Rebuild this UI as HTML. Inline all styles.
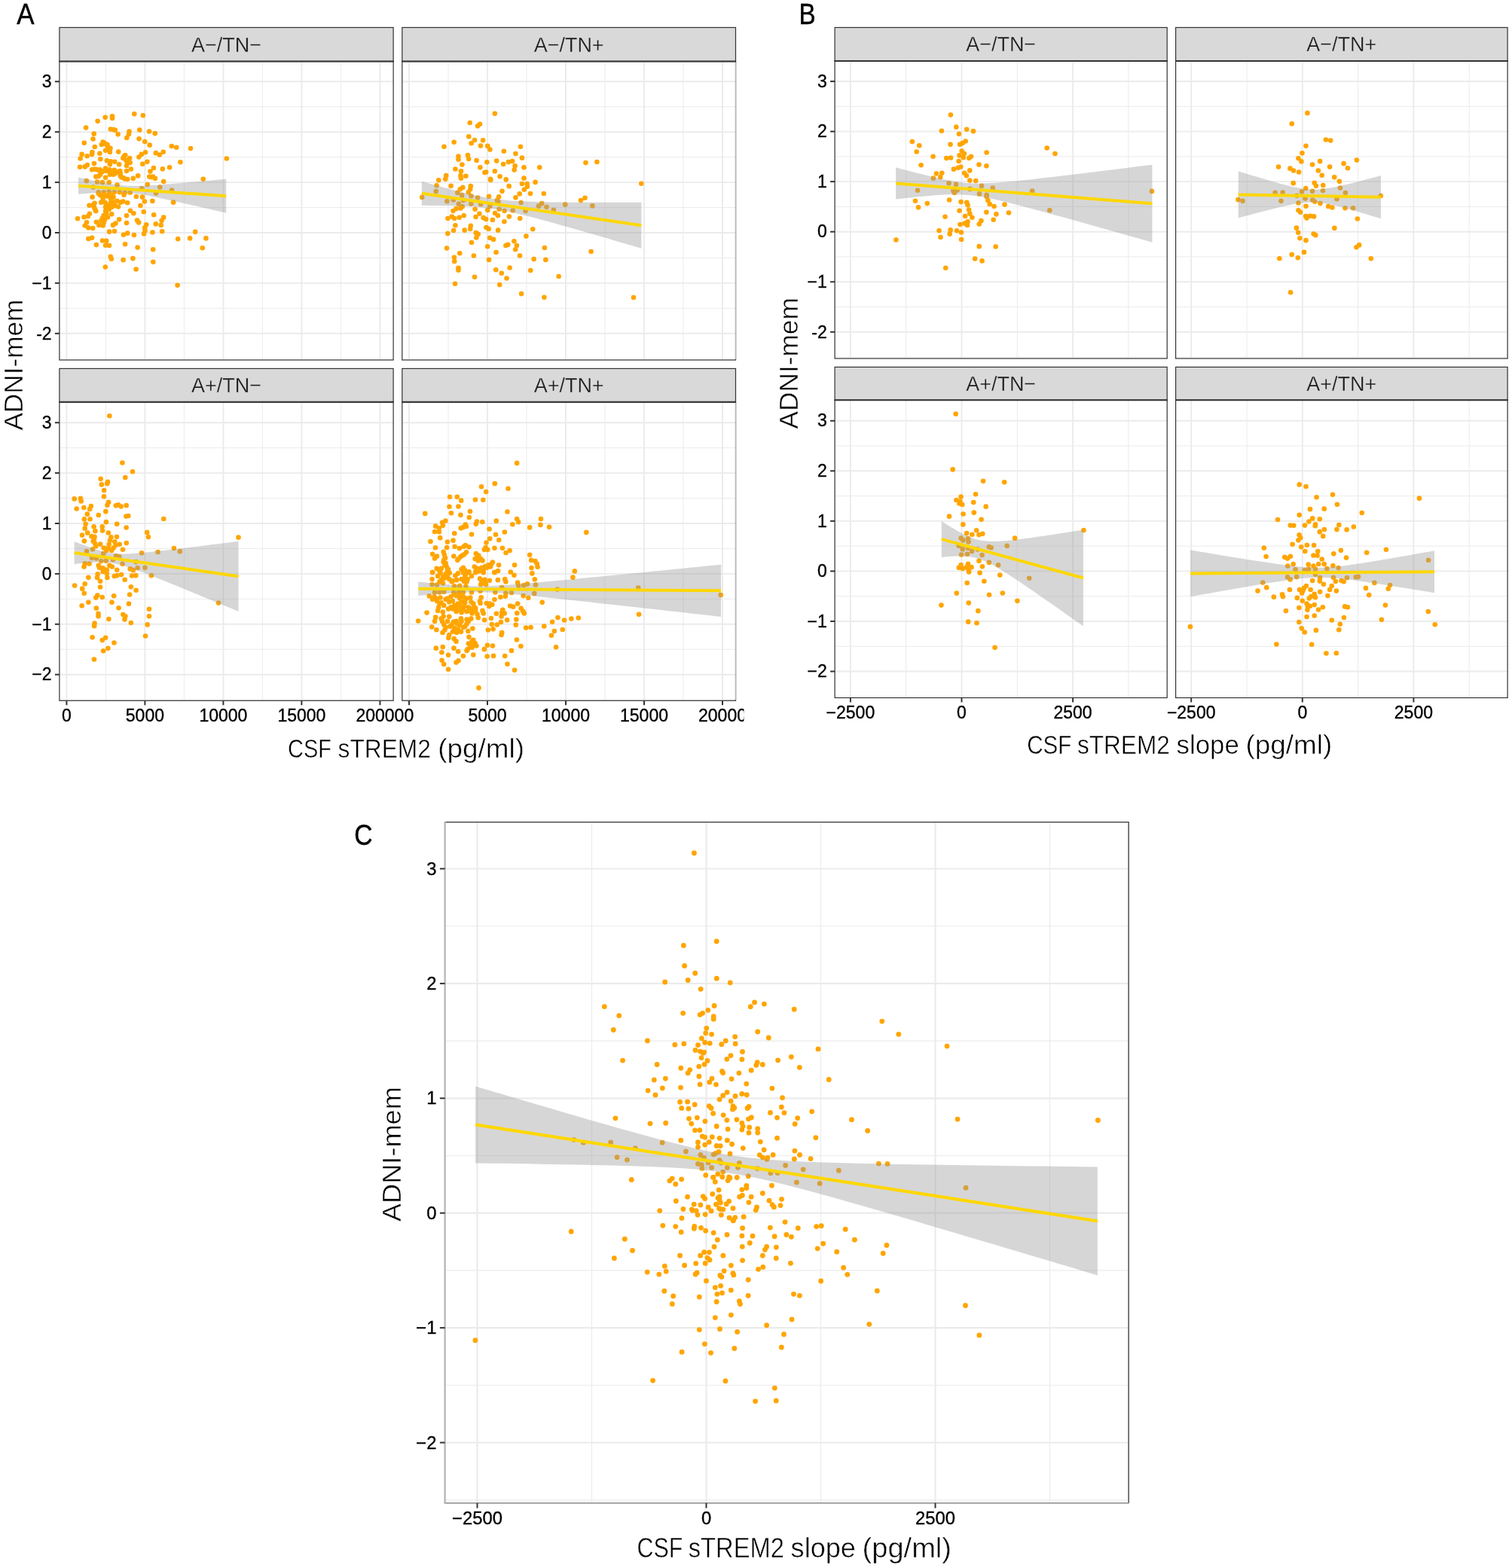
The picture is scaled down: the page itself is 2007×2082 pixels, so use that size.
<!DOCTYPE html>
<html lang="en"><head><meta charset="utf-8"><title>CSF sTREM2 and ADNI-mem</title>
<style>html,body{margin:0;padding:0;background:#fff}svg{display:block}text{white-space:pre}</style></head>
<body>
<svg width="2007" height="2082" viewBox="0 0 2007 2082" font-family='"Liberation Sans", sans-serif' fill="#000">
<rect width="2007" height="2082" fill="#fff"/>
<defs><clipPath id="cropA"><rect x="0" y="0" width="987.4" height="1040"/></clipPath></defs>
<g id="A_TL">
<rect x="78.9" y="81.5" width="443.2" height="396.5" fill="#fff"/>
<g stroke="#EBEBEB" fill="none"><path d="M78.9 141.75H522.1" stroke-width="1.0"/><path d="M78.9 208.65H522.1" stroke-width="1.0"/><path d="M78.9 275.55H522.1" stroke-width="1.0"/><path d="M78.9 342.45H522.1" stroke-width="1.0"/><path d="M78.9 409.35H522.1" stroke-width="1.0"/><path d="M78.9 476.25H522.1" stroke-width="1.0"/><path d="M140.4 81.5V478" stroke-width="1.0"/><path d="M244.4 81.5V478" stroke-width="1.0"/><path d="M348.4 81.5V478" stroke-width="1.0"/><path d="M452.4 81.5V478" stroke-width="1.0"/><path d="M78.9 108.3H522.1" stroke-width="1.9"/><path d="M78.9 175.2H522.1" stroke-width="1.9"/><path d="M78.9 242.1H522.1" stroke-width="1.9"/><path d="M78.9 309H522.1" stroke-width="1.9"/><path d="M78.9 375.9H522.1" stroke-width="1.9"/><path d="M78.9 442.8H522.1" stroke-width="1.9"/><path d="M88.4 81.5V478" stroke-width="1.9"/><path d="M192.4 81.5V478" stroke-width="1.9"/><path d="M296.4 81.5V478" stroke-width="1.9"/><path d="M400.4 81.5V478" stroke-width="1.9"/><path d="M504.4 81.5V478" stroke-width="1.9"/></g>
<g fill="#FFA500"><circle cx="178.28" cy="151.31" r="3.3"/><circle cx="189.81" cy="153.29" r="3.3"/><circle cx="139.73" cy="155.85" r="3.3"/><circle cx="149.05" cy="154.22" r="3.3"/><circle cx="149.05" cy="156.9" r="3.3"/><circle cx="129.6" cy="160.86" r="3.3"/><circle cx="114.11" cy="169.59" r="3.3"/><circle cx="146.84" cy="171.57" r="3.3"/><circle cx="150.33" cy="172.04" r="3.3"/><circle cx="152.89" cy="172.74" r="3.3"/><circle cx="185.27" cy="172.62" r="3.3"/><circle cx="198.08" cy="174.6" r="3.3"/><circle cx="205.77" cy="177.16" r="3.3"/><circle cx="171.53" cy="174.6" r="3.3"/><circle cx="170.95" cy="178.33" r="3.3"/><circle cx="168.27" cy="182.99" r="3.3"/><circle cx="156.62" cy="178.33" r="3.3"/><circle cx="124.71" cy="177.63" r="3.3"/><circle cx="123.54" cy="184.5" r="3.3"/><circle cx="184.57" cy="184.27" r="3.3"/><circle cx="192.26" cy="187.99" r="3.3"/><circle cx="198.67" cy="192.65" r="3.3"/><circle cx="111.78" cy="189.74" r="3.3"/><circle cx="136.59" cy="188.58" r="3.3"/><circle cx="134.84" cy="192.07" r="3.3"/><circle cx="140.66" cy="191.49" r="3.3"/><circle cx="142.99" cy="194.4" r="3.3"/><circle cx="125.76" cy="194.98" r="3.3"/><circle cx="146.49" cy="196.73" r="3.3"/><circle cx="140.08" cy="199.87" r="3.3"/><circle cx="145.9" cy="201.97" r="3.3"/><circle cx="227.78" cy="194.05" r="3.3"/><circle cx="234.19" cy="195.8" r="3.3"/><circle cx="253.06" cy="197.08" r="3.3"/><circle cx="157.2" cy="201.62" r="3.3"/><circle cx="132.39" cy="203.72" r="3.3"/><circle cx="122.38" cy="201.97" r="3.3"/><circle cx="122.03" cy="204.88" r="3.3"/><circle cx="108.63" cy="204.88" r="3.3"/><circle cx="106.66" cy="210.47" r="3.3"/><circle cx="115.62" cy="207.21" r="3.3"/><circle cx="193.07" cy="202.32" r="3.3"/><circle cx="187.83" cy="204.88" r="3.3"/><circle cx="184.34" cy="208.61" r="3.3"/><circle cx="206.82" cy="203.13" r="3.3"/><circle cx="211.71" cy="205.46" r="3.3"/><circle cx="216.72" cy="201.74" r="3.3"/><circle cx="166.29" cy="206.05" r="3.3"/><circle cx="163.38" cy="210.12" r="3.3"/><circle cx="172.11" cy="210.12" r="3.3"/><circle cx="167.45" cy="213.03" r="3.3"/><circle cx="172.69" cy="215.95" r="3.3"/><circle cx="168.03" cy="220.02" r="3.3"/><circle cx="133.33" cy="211.29" r="3.3"/><circle cx="300.81" cy="210.47" r="3.3"/><circle cx="141.83" cy="213.27" r="3.3"/><circle cx="147.07" cy="214.2" r="3.3"/><circle cx="152.31" cy="214.78" r="3.3"/><circle cx="145.9" cy="218.28" r="3.3"/><circle cx="158.13" cy="218.28" r="3.3"/><circle cx="124.94" cy="217.11" r="3.3"/><circle cx="195.4" cy="214.78" r="3.3"/><circle cx="189.35" cy="217.69" r="3.3"/><circle cx="239.43" cy="215.36" r="3.3"/><circle cx="115.86" cy="219.09" r="3.3"/><circle cx="112.71" cy="221.42" r="3.3"/><circle cx="106.07" cy="221.77" r="3.3"/><circle cx="225.1" cy="222.35" r="3.3"/><circle cx="215.79" cy="224.33" r="3.3"/><circle cx="203.91" cy="222.93" r="3.3"/><circle cx="199.48" cy="227.59" r="3.3"/><circle cx="173.86" cy="224.45" r="3.3"/><circle cx="168.03" cy="227.01" r="3.3"/><circle cx="140.08" cy="223.52" r="3.3"/><circle cx="122.03" cy="225.26" r="3.3"/><circle cx="127.27" cy="224.68" r="3.3"/><circle cx="132.51" cy="225.26" r="3.3"/><circle cx="137.75" cy="227.01" r="3.3"/><circle cx="145.32" cy="225.26" r="3.3"/><circle cx="151.73" cy="225.85" r="3.3"/><circle cx="159.3" cy="227.01" r="3.3"/><circle cx="148.23" cy="229.34" r="3.3"/><circle cx="153.48" cy="229.92" r="3.3"/><circle cx="133.09" cy="231.67" r="3.3"/><circle cx="127.27" cy="234.58" r="3.3"/><circle cx="140.08" cy="235.75" r="3.3"/><circle cx="159.88" cy="233.42" r="3.3"/><circle cx="163.96" cy="236.33" r="3.3"/><circle cx="169.2" cy="238.07" r="3.3"/><circle cx="176.77" cy="236.91" r="3.3"/><circle cx="183.17" cy="233.42" r="3.3"/><circle cx="198.32" cy="234.58" r="3.3"/><circle cx="202.97" cy="234.58" r="3.3"/><circle cx="205.89" cy="236.91" r="3.3"/><circle cx="217.18" cy="240.99" r="3.3"/><circle cx="269.71" cy="237.84" r="3.3"/><circle cx="114.81" cy="240.17" r="3.3"/><circle cx="129.02" cy="241.57" r="3.3"/><circle cx="136.01" cy="242.15" r="3.3"/><circle cx="144.74" cy="242.15" r="3.3"/><circle cx="155.57" cy="245.65" r="3.3"/><circle cx="195.75" cy="245.06" r="3.3"/><circle cx="212.29" cy="248.56" r="3.3"/><circle cx="188.18" cy="250.3" r="3.3"/><circle cx="228.02" cy="252.63" r="3.3"/><circle cx="123.78" cy="248.56" r="3.3"/><circle cx="130.76" cy="255.24" r="3.3"/><circle cx="137.75" cy="255.24" r="3.3"/><circle cx="144.74" cy="254.66" r="3.3"/><circle cx="151.73" cy="255.24" r="3.3"/><circle cx="158.72" cy="255.24" r="3.3"/><circle cx="165.7" cy="255.82" r="3.3"/><circle cx="172.69" cy="255.82" r="3.3"/><circle cx="207.05" cy="256.41" r="3.3"/><circle cx="122.61" cy="261.65" r="3.3"/><circle cx="133.09" cy="259.32" r="3.3"/><circle cx="136.59" cy="263.98" r="3.3"/><circle cx="144.74" cy="258.74" r="3.3"/><circle cx="147.07" cy="263.98" r="3.3"/><circle cx="164.54" cy="258.74" r="3.3"/><circle cx="180.85" cy="261.06" r="3.3"/><circle cx="189" cy="261.65" r="3.3"/><circle cx="191.91" cy="267.47" r="3.3"/><circle cx="202.39" cy="266.89" r="3.3"/><circle cx="230.11" cy="268.63" r="3.3"/><circle cx="155.22" cy="266.89" r="3.3"/><circle cx="163.38" cy="267.47" r="3.3"/><circle cx="169.2" cy="269.22" r="3.3"/><circle cx="125.52" cy="269.8" r="3.3"/><circle cx="118.53" cy="272.71" r="3.3"/><circle cx="124.94" cy="275.04" r="3.3"/><circle cx="127.27" cy="280.28" r="3.3"/><circle cx="140.08" cy="269.22" r="3.3"/><circle cx="147.07" cy="269.22" r="3.3"/><circle cx="140.08" cy="275.04" r="3.3"/><circle cx="148.23" cy="275.04" r="3.3"/><circle cx="156.97" cy="274.46" r="3.3"/><circle cx="140.08" cy="280.28" r="3.3"/><circle cx="186.44" cy="273.06" r="3.3"/><circle cx="172.93" cy="279.7" r="3.3"/><circle cx="177.35" cy="283.19" r="3.3"/><circle cx="190.75" cy="281.21" r="3.3"/><circle cx="118.88" cy="283.78" r="3.3"/><circle cx="116.79" cy="287.27" r="3.3"/><circle cx="111.55" cy="288.2" r="3.3"/><circle cx="103.04" cy="290.18" r="3.3"/><circle cx="204.14" cy="285.29" r="3.3"/><circle cx="148.23" cy="284.36" r="3.3"/><circle cx="142.99" cy="288.43" r="3.3"/><circle cx="136.01" cy="289.6" r="3.3"/><circle cx="168.03" cy="286.34" r="3.3"/><circle cx="217.18" cy="288.67" r="3.3"/><circle cx="214.62" cy="292.86" r="3.3"/><circle cx="158.13" cy="291.35" r="3.3"/><circle cx="182.01" cy="292.51" r="3.3"/><circle cx="184.11" cy="295.42" r="3.3"/><circle cx="168.03" cy="296.01" r="3.3"/><circle cx="115.04" cy="295.42" r="3.3"/><circle cx="112.71" cy="299.5" r="3.3"/><circle cx="117.37" cy="302.41" r="3.3"/><circle cx="123.19" cy="302.99" r="3.3"/><circle cx="127.85" cy="294.84" r="3.3"/><circle cx="131.35" cy="298.92" r="3.3"/><circle cx="137.75" cy="295.42" r="3.3"/><circle cx="136.59" cy="299.5" r="3.3"/><circle cx="153.48" cy="296.59" r="3.3"/><circle cx="149.98" cy="298.92" r="3.3"/><circle cx="206.82" cy="297.4" r="3.3"/><circle cx="213.69" cy="298.92" r="3.3"/><circle cx="194.24" cy="298.33" r="3.3"/><circle cx="192.26" cy="302.41" r="3.3"/><circle cx="192.49" cy="306.49" r="3.3"/><circle cx="191.09" cy="310.56" r="3.3"/><circle cx="145.09" cy="307.65" r="3.3"/><circle cx="151.96" cy="307.07" r="3.3"/><circle cx="169.2" cy="309.63" r="3.3"/><circle cx="163.96" cy="311.73" r="3.3"/><circle cx="177.93" cy="311.96" r="3.3"/><circle cx="202.39" cy="308.47" r="3.3"/><circle cx="215.2" cy="307.3" r="3.3"/><circle cx="259.11" cy="307.88" r="3.3"/><circle cx="117.37" cy="316.97" r="3.3"/><circle cx="122.03" cy="315.8" r="3.3"/><circle cx="136.01" cy="319.53" r="3.3"/><circle cx="141.25" cy="319.88" r="3.3"/><circle cx="236.17" cy="317.32" r="3.3"/><circle cx="252.12" cy="316.39" r="3.3"/><circle cx="273.44" cy="316.39" r="3.3"/><circle cx="127.85" cy="325.12" r="3.3"/><circle cx="140.08" cy="325.7" r="3.3"/><circle cx="144.97" cy="326.05" r="3.3"/><circle cx="166.05" cy="324.31" r="3.3"/><circle cx="182.59" cy="328.62" r="3.3"/><circle cx="203.21" cy="331.18" r="3.3"/><circle cx="268.78" cy="329.2" r="3.3"/><circle cx="146.72" cy="340.85" r="3.3"/><circle cx="147.88" cy="343.76" r="3.3"/><circle cx="163.61" cy="345.15" r="3.3"/><circle cx="176.42" cy="343.17" r="3.3"/><circle cx="203.32" cy="347.83" r="3.3"/><circle cx="139.85" cy="354.47" r="3.3"/><circle cx="180.61" cy="357.5" r="3.3"/><circle cx="235.59" cy="378.7" r="3.3"/><circle cx="142.41" cy="260.48" r="3.3"/><circle cx="148.23" cy="259.32" r="3.3"/><circle cx="134.26" cy="268.63" r="3.3"/><circle cx="143.58" cy="273.29" r="3.3"/><circle cx="144.74" cy="277.95" r="3.3"/><circle cx="152.89" cy="273.29" r="3.3"/><circle cx="150.56" cy="268.63" r="3.3"/><circle cx="126.11" cy="277.95" r="3.3"/><circle cx="123.78" cy="272.13" r="3.3"/><circle cx="130.76" cy="256.99" r="3.3"/><circle cx="138.92" cy="259.32" r="3.3"/><circle cx="150.56" cy="261.65" r="3.3"/><circle cx="159.88" cy="268.63" r="3.3"/><circle cx="141.25" cy="283.78" r="3.3"/><circle cx="137.75" cy="286.11" r="3.3"/><circle cx="134.26" cy="293.09" r="3.3"/><circle cx="138.92" cy="291.93" r="3.3"/><circle cx="138.33" cy="189.74" r="3.3"/><circle cx="142.41" cy="192.07" r="3.3"/><circle cx="144.74" cy="199.06" r="3.3"/><circle cx="164.54" cy="207.79" r="3.3"/><circle cx="170.36" cy="212.45" r="3.3"/><circle cx="169.2" cy="216.53" r="3.3"/><circle cx="124.94" cy="224.68" r="3.3"/><circle cx="130.18" cy="225.85" r="3.3"/><circle cx="142.41" cy="227.01" r="3.3"/><circle cx="149.4" cy="227.01" r="3.3"/><circle cx="155.22" cy="228.17" r="3.3"/><circle cx="150.56" cy="231.67" r="3.3"/><circle cx="145.9" cy="231.67" r="3.3"/><circle cx="135.42" cy="228.17" r="3.3"/><circle cx="130.76" cy="234" r="3.3"/><circle cx="159.88" cy="230.5" r="3.3"/><circle cx="161.05" cy="235.16" r="3.3"/><circle cx="165.7" cy="237.49" r="3.3"/><circle cx="200.65" cy="235.16" r="3.3"/></g>
<path d="M104.1 235.6L108.19 236.49L112.27 237.37L116.36 238.25L120.44 239.11L124.53 239.96L128.61 240.79L132.7 241.6L136.78 242.38L140.87 243.14L144.95 243.85L149.04 244.51L153.12 245.11L157.21 245.64L161.3 246.07L165.38 246.42L169.47 246.66L173.55 246.81L177.64 246.87L181.72 246.85L185.81 246.76L189.89 246.63L193.98 246.45L198.06 246.23L202.15 245.99L206.24 245.73L210.32 245.44L214.41 245.15L218.49 244.84L222.58 244.52L226.66 244.2L230.75 243.86L234.83 243.52L238.92 243.18L243 242.83L247.09 242.48L251.17 242.12L255.26 241.76L259.35 241.4L263.43 241.04L267.52 240.67L271.6 240.31L275.69 239.94L279.77 239.57L283.86 239.2L287.94 238.82L292.03 238.45L296.11 238.08L300.2 237.7L300.2 282.7L296.11 281.76L292.03 280.82L287.94 279.89L283.86 278.95L279.77 278.02L275.69 277.09L271.6 276.16L267.52 275.23L263.43 274.3L259.35 273.37L255.26 272.45L251.17 271.53L247.09 270.61L243 269.69L238.92 268.78L234.83 267.88L230.75 266.97L226.66 266.08L222.58 265.19L218.49 264.31L214.41 263.44L210.32 262.58L206.24 261.74L202.15 260.91L198.06 260.11L193.98 259.33L189.89 258.59L185.81 257.89L181.72 257.24L177.64 256.66L173.55 256.15L169.47 255.74L165.38 255.42L161.3 255.2L157.21 255.08L153.12 255.04L149.04 255.08L144.95 255.18L140.87 255.33L136.78 255.52L132.7 255.74L128.61 255.99L124.53 256.26L120.44 256.54L116.36 256.84L112.27 257.15L108.19 257.47L104.1 257.8Z" fill="#999999" fill-opacity="0.4"/>
<path d="M104.1 246.7L300.2 260.2" stroke="#FFD700" stroke-width="4.0" fill="none"/>
<rect x="78.9" y="81.5" width="443.2" height="396.5" fill="none" stroke="#333333" stroke-width="1.2"/>
<rect x="78.9" y="36.5" width="443.2" height="45" fill="#D9D9D9" stroke="#333333" stroke-width="1.2"/>
<path d="M78.3 81.5H522.7" stroke="#333333" stroke-width="1.9"/>
<text x="300.5" y="68.8" font-size="28.5" text-anchor="middle" textLength="93" lengthAdjust="spacingAndGlyphs" fill="#1A1A1A" stroke="#D9D9D9" stroke-width="0.3">A−/TN−</text>
<text x="68.6" y="116.03" font-size="23" text-anchor="end" fill="#000" stroke="#000" stroke-width="0.35">3</text>
<text x="68.6" y="182.93" font-size="23" text-anchor="end" fill="#000" stroke="#000" stroke-width="0.35">2</text>
<text x="68.6" y="249.83" font-size="23" text-anchor="end" fill="#000" stroke="#000" stroke-width="0.35">1</text>
<text x="68.6" y="316.73" font-size="23" text-anchor="end" fill="#000" stroke="#000" stroke-width="0.35">0</text>
<text x="68.6" y="383.63" font-size="23" text-anchor="end" fill="#000" stroke="#000" stroke-width="0.35">−1</text>
<text x="68.6" y="450.53" font-size="23" text-anchor="end" fill="#000" stroke="#000" stroke-width="0.35">-2</text>
<path d="M72.9 108.3H78.9" stroke="#333333" stroke-width="2.0"/><path d="M72.9 175.2H78.9" stroke="#333333" stroke-width="2.0"/><path d="M72.9 242.1H78.9" stroke="#333333" stroke-width="2.0"/><path d="M72.9 309H78.9" stroke="#333333" stroke-width="2.0"/><path d="M72.9 375.9H78.9" stroke="#333333" stroke-width="2.0"/><path d="M72.9 442.8H78.9" stroke="#333333" stroke-width="2.0"/>
</g>
<g id="A_TR">
<rect x="533.8" y="81.5" width="442.7" height="396.5" fill="#fff"/>
<g stroke="#EBEBEB" fill="none"><path d="M533.8 141.75H976.5" stroke-width="1.0"/><path d="M533.8 208.65H976.5" stroke-width="1.0"/><path d="M533.8 275.55H976.5" stroke-width="1.0"/><path d="M533.8 342.45H976.5" stroke-width="1.0"/><path d="M533.8 409.35H976.5" stroke-width="1.0"/><path d="M533.8 476.25H976.5" stroke-width="1.0"/><path d="M595 81.5V478" stroke-width="1.0"/><path d="M699 81.5V478" stroke-width="1.0"/><path d="M803 81.5V478" stroke-width="1.0"/><path d="M907 81.5V478" stroke-width="1.0"/><path d="M533.8 108.3H976.5" stroke-width="1.9"/><path d="M533.8 175.2H976.5" stroke-width="1.9"/><path d="M533.8 242.1H976.5" stroke-width="1.9"/><path d="M533.8 309H976.5" stroke-width="1.9"/><path d="M533.8 375.9H976.5" stroke-width="1.9"/><path d="M533.8 442.8H976.5" stroke-width="1.9"/><path d="M543 81.5V478" stroke-width="1.9"/><path d="M647 81.5V478" stroke-width="1.9"/><path d="M751 81.5V478" stroke-width="1.9"/><path d="M855 81.5V478" stroke-width="1.9"/><path d="M959 81.5V478" stroke-width="1.9"/></g>
<g fill="#FFA500"><circle cx="656.81" cy="150.83" r="3.3"/><circle cx="623.73" cy="162.94" r="3.3"/><circle cx="637.01" cy="164.69" r="3.3"/><circle cx="634.1" cy="167.37" r="3.3"/><circle cx="622.22" cy="181.35" r="3.3"/><circle cx="630.02" cy="186.01" r="3.3"/><circle cx="625.6" cy="190.31" r="3.3"/><circle cx="641.09" cy="186.35" r="3.3"/><circle cx="637.94" cy="193.58" r="3.3"/><circle cx="602.65" cy="188.68" r="3.3"/><circle cx="589.49" cy="194.74" r="3.3"/><circle cx="647.26" cy="193.92" r="3.3"/><circle cx="650.4" cy="198.58" r="3.3"/><circle cx="690.94" cy="194.74" r="3.3"/><circle cx="668.81" cy="200.8" r="3.3"/><circle cx="684.41" cy="204.06" r="3.3"/><circle cx="692.92" cy="209.65" r="3.3"/><circle cx="608.48" cy="207.55" r="3.3"/><circle cx="608.48" cy="211.63" r="3.3"/><circle cx="620.94" cy="206.15" r="3.3"/><circle cx="622.1" cy="211.05" r="3.3"/><circle cx="632.58" cy="213.03" r="3.3"/><circle cx="646.33" cy="215.36" r="3.3"/><circle cx="659.14" cy="213.61" r="3.3"/><circle cx="668.11" cy="218.03" r="3.3"/><circle cx="674.86" cy="215.12" r="3.3"/><circle cx="680.1" cy="213.96" r="3.3"/><circle cx="683.6" cy="220.36" r="3.3"/><circle cx="682.67" cy="225.6" r="3.3"/><circle cx="613.37" cy="218.62" r="3.3"/><circle cx="695.48" cy="222.34" r="3.3"/><circle cx="716.21" cy="222.34" r="3.3"/><circle cx="637.36" cy="222.34" r="3.3"/><circle cx="604.4" cy="224.44" r="3.3"/><circle cx="611.97" cy="227.35" r="3.3"/><circle cx="611.39" cy="233.17" r="3.3"/><circle cx="611.97" cy="236.67" r="3.3"/><circle cx="618.38" cy="233.76" r="3.3"/><circle cx="643.42" cy="229.1" r="3.3"/><circle cx="645.16" cy="228.52" r="3.3"/><circle cx="656.81" cy="227.35" r="3.3"/><circle cx="663.57" cy="234.34" r="3.3"/><circle cx="671.72" cy="238.42" r="3.3"/><circle cx="650.99" cy="237.83" r="3.3"/><circle cx="651.22" cy="239" r="3.3"/><circle cx="592.17" cy="233.17" r="3.3"/><circle cx="591.24" cy="237.83" r="3.3"/><circle cx="582.27" cy="239.23" r="3.3"/><circle cx="695.48" cy="236.67" r="3.3"/><circle cx="710.62" cy="241.91" r="3.3"/><circle cx="692.92" cy="244.01" r="3.3"/><circle cx="699.67" cy="244.01" r="3.3"/><circle cx="699.9" cy="247.73" r="3.3"/><circle cx="695.83" cy="251.81" r="3.3"/><circle cx="675.68" cy="247.15" r="3.3"/><circle cx="579.59" cy="246.22" r="3.3"/><circle cx="598.58" cy="246.92" r="3.3"/><circle cx="614.3" cy="248.9" r="3.3"/><circle cx="610.8" cy="251.23" r="3.3"/><circle cx="624.78" cy="247.15" r="3.3"/><circle cx="624.2" cy="251.23" r="3.3"/><circle cx="621.87" cy="255.3" r="3.3"/><circle cx="666.48" cy="253.79" r="3.3"/><circle cx="578.78" cy="254.14" r="3.3"/><circle cx="607.31" cy="255.89" r="3.3"/><circle cx="689.65" cy="257.4" r="3.3"/><circle cx="703.98" cy="257.05" r="3.3"/><circle cx="721.8" cy="257.05" r="3.3"/><circle cx="613.13" cy="259.38" r="3.3"/><circle cx="560.14" cy="261.99" r="3.3"/><circle cx="625.36" cy="260.24" r="3.3"/><circle cx="634.1" cy="262.57" r="3.3"/><circle cx="649.01" cy="260.82" r="3.3"/><circle cx="662.05" cy="261.41" r="3.3"/><circle cx="684.41" cy="262.34" r="3.3"/><circle cx="593.33" cy="267.23" r="3.3"/><circle cx="601.84" cy="265.48" r="3.3"/><circle cx="614.88" cy="266.06" r="3.3"/><circle cx="608.82" cy="270.72" r="3.3"/><circle cx="613.72" cy="274.22" r="3.3"/><circle cx="625.36" cy="270.72" r="3.3"/><circle cx="638.17" cy="271.31" r="3.3"/><circle cx="650.4" cy="273.63" r="3.3"/><circle cx="659.72" cy="266.06" r="3.3"/><circle cx="661.47" cy="267.81" r="3.3"/><circle cx="691.52" cy="268.98" r="3.3"/><circle cx="719.12" cy="270.14" r="3.3"/><circle cx="715.04" cy="273.63" r="3.3"/><circle cx="725.53" cy="274.8" r="3.3"/><circle cx="750.22" cy="271.66" r="3.3"/><circle cx="734.84" cy="278.88" r="3.3"/><circle cx="697.57" cy="280.04" r="3.3"/><circle cx="680.69" cy="279.46" r="3.3"/><circle cx="662.63" cy="277.71" r="3.3"/><circle cx="669.62" cy="280.04" r="3.3"/><circle cx="605.56" cy="277.13" r="3.3"/><circle cx="601.49" cy="280.04" r="3.3"/><circle cx="611.39" cy="276.55" r="3.3"/><circle cx="630.6" cy="277.71" r="3.3"/><circle cx="647.26" cy="278.88" r="3.3"/><circle cx="657.04" cy="282.95" r="3.3"/><circle cx="660.89" cy="286.21" r="3.3"/><circle cx="636.43" cy="283.77" r="3.3"/><circle cx="631.54" cy="287.96" r="3.3"/><circle cx="615.7" cy="286.21" r="3.3"/><circle cx="609.64" cy="288.78" r="3.3"/><circle cx="603.23" cy="289.94" r="3.3"/><circle cx="599.74" cy="287.61" r="3.3"/><circle cx="594.5" cy="289.94" r="3.3"/><circle cx="641.67" cy="289.13" r="3.3"/><circle cx="645.16" cy="291.11" r="3.3"/><circle cx="653.9" cy="292.04" r="3.3"/><circle cx="675.79" cy="287.61" r="3.3"/><circle cx="690.24" cy="289.94" r="3.3"/><circle cx="669.39" cy="294.25" r="3.3"/><circle cx="604.4" cy="299.26" r="3.3"/><circle cx="624.78" cy="299.84" r="3.3"/><circle cx="624.2" cy="303.92" r="3.3"/><circle cx="616.63" cy="305.66" r="3.3"/><circle cx="602.07" cy="306.01" r="3.3"/><circle cx="594.27" cy="310.09" r="3.3"/><circle cx="645.4" cy="301.94" r="3.3"/><circle cx="648.66" cy="303.92" r="3.3"/><circle cx="661.12" cy="305.66" r="3.3"/><circle cx="707.24" cy="304.27" r="3.3"/><circle cx="631.77" cy="309.16" r="3.3"/><circle cx="634.68" cy="310.9" r="3.3"/><circle cx="632.35" cy="315.56" r="3.3"/><circle cx="698.39" cy="313.58" r="3.3"/><circle cx="650.17" cy="315.8" r="3.3"/><circle cx="655.06" cy="317.89" r="3.3"/><circle cx="625.95" cy="321.97" r="3.3"/><circle cx="682.43" cy="320.22" r="3.3"/><circle cx="685.93" cy="326.05" r="3.3"/><circle cx="684.18" cy="331.29" r="3.3"/><circle cx="671.37" cy="326.05" r="3.3"/><circle cx="674.28" cy="324.88" r="3.3"/><circle cx="647.14" cy="327.21" r="3.3"/><circle cx="593.1" cy="329.54" r="3.3"/><circle cx="722.85" cy="328.96" r="3.3"/><circle cx="658.56" cy="335.01" r="3.3"/><circle cx="610.22" cy="336.18" r="3.3"/><circle cx="628.86" cy="339.44" r="3.3"/><circle cx="690" cy="339.44" r="3.3"/><circle cx="602.88" cy="341.77" r="3.3"/><circle cx="603.23" cy="347.01" r="3.3"/><circle cx="649.01" cy="344.91" r="3.3"/><circle cx="708.64" cy="344.1" r="3.3"/><circle cx="724.36" cy="344.91" r="3.3"/><circle cx="608.48" cy="355.75" r="3.3"/><circle cx="608.48" cy="358.66" r="3.3"/><circle cx="676.61" cy="355.51" r="3.3"/><circle cx="658.21" cy="358.31" r="3.3"/><circle cx="704.21" cy="359.01" r="3.3"/><circle cx="665.78" cy="362.73" r="3.3"/><circle cx="630.02" cy="367.74" r="3.3"/><circle cx="672.53" cy="369.49" r="3.3"/><circle cx="741.6" cy="367.04" r="3.3"/><circle cx="604.05" cy="376.71" r="3.3"/><circle cx="663.22" cy="378.11" r="3.3"/><circle cx="692.1" cy="390.1" r="3.3"/><circle cx="722.38" cy="394.76" r="3.3"/><circle cx="777.4" cy="216.1" r="3.3"/><circle cx="792.4" cy="215.1" r="3.3"/><circle cx="851.3" cy="243.8" r="3.3"/><circle cx="776.5" cy="262.8" r="3.3"/><circle cx="771" cy="266.1" r="3.3"/><circle cx="786.4" cy="273.4" r="3.3"/><circle cx="784.6" cy="334" r="3.3"/><circle cx="841" cy="395" r="3.3"/></g>
<path d="M559.8 240.8L565.87 242.51L571.95 244.22L578.02 245.91L584.09 247.58L590.16 249.24L596.24 250.87L602.31 252.47L608.38 254.04L614.46 255.57L620.53 257.05L626.6 258.47L632.67 259.81L638.75 261.06L644.82 262.21L650.89 263.25L656.97 264.16L663.04 264.95L669.11 265.62L675.19 266.18L681.26 266.65L687.33 267.03L693.4 267.35L699.48 267.62L705.55 267.83L711.62 268.01L717.7 268.16L723.77 268.29L729.84 268.4L735.91 268.48L741.99 268.56L748.06 268.62L754.13 268.67L760.21 268.71L766.28 268.75L772.35 268.77L778.42 268.8L784.5 268.81L790.57 268.83L796.64 268.84L802.72 268.84L808.79 268.85L814.86 268.85L820.94 268.84L827.01 268.84L833.08 268.83L839.15 268.82L845.23 268.81L851.3 268.8L851.3 329.8L845.23 328.02L839.15 326.24L833.08 324.46L827.01 322.68L820.94 320.9L814.86 319.13L808.79 317.36L802.72 315.59L796.64 313.83L790.57 312.06L784.5 310.31L778.42 308.55L772.35 306.8L766.28 305.06L760.21 303.33L754.13 301.6L748.06 299.88L741.99 298.17L735.91 296.47L729.84 294.79L723.77 293.12L717.7 291.48L711.62 289.86L705.55 288.27L699.48 286.71L693.4 285.21L687.33 283.75L681.26 282.37L675.19 281.06L669.11 279.85L663.04 278.75L656.97 277.77L650.89 276.91L644.82 276.18L638.75 275.56L632.67 275.04L626.6 274.61L620.53 274.26L614.46 273.97L608.38 273.72L602.31 273.52L596.24 273.36L590.16 273.22L584.09 273.1L578.02 273.01L571.95 272.92L565.87 272.86L559.8 272.8Z" fill="#999999" fill-opacity="0.4"/>
<path d="M559.8 256.8L851.3 299.3" stroke="#FFD700" stroke-width="4.0" fill="none"/>
<rect x="533.8" y="81.5" width="442.7" height="396.5" fill="none" stroke="#333333" stroke-width="1.2"/>
<path d="M976.8 82.5V477" stroke="#C4C4C4" stroke-width="1.4" fill="none"/>
<rect x="533.8" y="36.5" width="442.7" height="45" fill="#D9D9D9" stroke="#333333" stroke-width="1.2"/>
<path d="M533.2 81.5H977.1" stroke="#333333" stroke-width="1.9"/>
<text x="755.15" y="68.8" font-size="28.5" text-anchor="middle" textLength="93" lengthAdjust="spacingAndGlyphs" fill="#1A1A1A" stroke="#D9D9D9" stroke-width="0.3">A−/TN+</text>

</g>
<g id="A_BL">
<rect x="78.9" y="533.8" width="443.2" height="396.5" fill="#fff"/>
<g stroke="#EBEBEB" fill="none"><path d="M78.9 594.65H522.1" stroke-width="1.0"/><path d="M78.9 661.55H522.1" stroke-width="1.0"/><path d="M78.9 728.45H522.1" stroke-width="1.0"/><path d="M78.9 795.35H522.1" stroke-width="1.0"/><path d="M78.9 862.25H522.1" stroke-width="1.0"/><path d="M78.9 929.15H522.1" stroke-width="1.0"/><path d="M140.4 533.8V930.3" stroke-width="1.0"/><path d="M244.4 533.8V930.3" stroke-width="1.0"/><path d="M348.4 533.8V930.3" stroke-width="1.0"/><path d="M452.4 533.8V930.3" stroke-width="1.0"/><path d="M78.9 561.2H522.1" stroke-width="1.9"/><path d="M78.9 628.1H522.1" stroke-width="1.9"/><path d="M78.9 695H522.1" stroke-width="1.9"/><path d="M78.9 761.9H522.1" stroke-width="1.9"/><path d="M78.9 828.8H522.1" stroke-width="1.9"/><path d="M78.9 895.7H522.1" stroke-width="1.9"/><path d="M88.4 533.8V930.3" stroke-width="1.9"/><path d="M192.4 533.8V930.3" stroke-width="1.9"/><path d="M296.4 533.8V930.3" stroke-width="1.9"/><path d="M400.4 533.8V930.3" stroke-width="1.9"/><path d="M504.4 533.8V930.3" stroke-width="1.9"/></g>
<g fill="#FFA500"><circle cx="145.32" cy="552.22" r="3.3"/><circle cx="162.44" cy="614.53" r="3.3"/><circle cx="175.95" cy="626.3" r="3.3"/><circle cx="166.29" cy="634.1" r="3.3"/><circle cx="133.68" cy="635.85" r="3.3"/><circle cx="142.99" cy="639.92" r="3.3"/><circle cx="142.18" cy="642.25" r="3.3"/><circle cx="134.84" cy="643.42" r="3.3"/><circle cx="138.1" cy="650.99" r="3.3"/><circle cx="137.99" cy="659.37" r="3.3"/><circle cx="98.74" cy="662.4" r="3.3"/><circle cx="106.89" cy="661.82" r="3.3"/><circle cx="107.7" cy="665.55" r="3.3"/><circle cx="144.16" cy="666.71" r="3.3"/><circle cx="142.41" cy="670.79" r="3.3"/><circle cx="153.82" cy="671.37" r="3.3"/><circle cx="156.97" cy="670.2" r="3.3"/><circle cx="160.7" cy="672.53" r="3.3"/><circle cx="167.68" cy="671.14" r="3.3"/><circle cx="101.65" cy="675.44" r="3.3"/><circle cx="111.31" cy="673.93" r="3.3"/><circle cx="120.86" cy="671.95" r="3.3"/><circle cx="119.12" cy="676.03" r="3.3"/><circle cx="140.31" cy="679.17" r="3.3"/><circle cx="115.86" cy="682.67" r="3.3"/><circle cx="130.76" cy="683.95" r="3.3"/><circle cx="167.45" cy="685.58" r="3.3"/><circle cx="170.36" cy="685" r="3.3"/><circle cx="111.9" cy="689.42" r="3.3"/><circle cx="119.47" cy="689.19" r="3.3"/><circle cx="217.3" cy="689.07" r="3.3"/><circle cx="140.9" cy="693.15" r="3.3"/><circle cx="113.64" cy="695.83" r="3.3"/><circle cx="155.22" cy="695.83" r="3.3"/><circle cx="124.59" cy="699.32" r="3.3"/><circle cx="126.34" cy="705.14" r="3.3"/><circle cx="135.77" cy="699.32" r="3.3"/><circle cx="136.01" cy="704.56" r="3.3"/><circle cx="112.71" cy="701.65" r="3.3"/><circle cx="167.68" cy="700.49" r="3.3"/><circle cx="116.21" cy="707.47" r="3.3"/><circle cx="143.92" cy="707.47" r="3.3"/><circle cx="195.17" cy="706.89" r="3.3"/><circle cx="196.92" cy="712.95" r="3.3"/><circle cx="108.98" cy="710.62" r="3.3"/><circle cx="121.45" cy="712.13" r="3.3"/><circle cx="125.52" cy="712.71" r="3.3"/><circle cx="147.42" cy="713.3" r="3.3"/><circle cx="154.99" cy="712.71" r="3.3"/><circle cx="111.9" cy="718.39" r="3.3"/><circle cx="124.94" cy="715.82" r="3.3"/><circle cx="126.11" cy="721.65" r="3.3"/><circle cx="133.09" cy="722.58" r="3.3"/><circle cx="145.9" cy="717.57" r="3.3"/><circle cx="152.31" cy="719.32" r="3.3"/><circle cx="158.72" cy="722.81" r="3.3"/><circle cx="167.8" cy="721.06" r="3.3"/><circle cx="137.75" cy="727.47" r="3.3"/><circle cx="143.58" cy="727.47" r="3.3"/><circle cx="150.56" cy="727.47" r="3.3"/><circle cx="148.23" cy="730.96" r="3.3"/><circle cx="163.03" cy="729.8" r="3.3"/><circle cx="122.96" cy="729.22" r="3.3"/><circle cx="115.04" cy="732.13" r="3.3"/><circle cx="137.17" cy="735.04" r="3.3"/><circle cx="188.07" cy="734.23" r="3.3"/><circle cx="209.61" cy="733.06" r="3.3"/><circle cx="230.93" cy="728.05" r="3.3"/><circle cx="238.73" cy="732.13" r="3.3"/><circle cx="154.06" cy="737.95" r="3.3"/><circle cx="158.13" cy="739.12" r="3.3"/><circle cx="122.03" cy="740.86" r="3.3"/><circle cx="127.85" cy="741.45" r="3.3"/><circle cx="149.98" cy="743.19" r="3.3"/><circle cx="134.26" cy="744.94" r="3.3"/><circle cx="140.66" cy="744.71" r="3.3"/><circle cx="180.61" cy="746.11" r="3.3"/><circle cx="162.56" cy="748.78" r="3.3"/><circle cx="112.71" cy="748.2" r="3.3"/><circle cx="118.53" cy="748.43" r="3.3"/><circle cx="111.55" cy="752.51" r="3.3"/><circle cx="130.76" cy="750.76" r="3.3"/><circle cx="136.59" cy="754.26" r="3.3"/><circle cx="145.32" cy="750.76" r="3.3"/><circle cx="148.82" cy="752.51" r="3.3"/><circle cx="141.83" cy="756.59" r="3.3"/><circle cx="131.93" cy="753.68" r="3.3"/><circle cx="136.59" cy="758.92" r="3.3"/><circle cx="182.59" cy="754.03" r="3.3"/><circle cx="192.49" cy="753.68" r="3.3"/><circle cx="172.69" cy="755.42" r="3.3"/><circle cx="176.77" cy="757.17" r="3.3"/><circle cx="155.22" cy="756.82" r="3.3"/><circle cx="129.6" cy="762.41" r="3.3"/><circle cx="129.02" cy="767.07" r="3.3"/><circle cx="133.09" cy="771.73" r="3.3"/><circle cx="141.83" cy="761.83" r="3.3"/><circle cx="142.41" cy="767.07" r="3.3"/><circle cx="151.73" cy="764.97" r="3.3"/><circle cx="155.22" cy="764.16" r="3.3"/><circle cx="161.05" cy="762.99" r="3.3"/><circle cx="175.02" cy="764.51" r="3.3"/><circle cx="180.26" cy="764.16" r="3.3"/><circle cx="200.88" cy="764.16" r="3.3"/><circle cx="117.37" cy="766.84" r="3.3"/><circle cx="165.7" cy="769.75" r="3.3"/><circle cx="112.71" cy="775.22" r="3.3"/><circle cx="99.08" cy="777.55" r="3.3"/><circle cx="109.22" cy="781.63" r="3.3"/><circle cx="133.09" cy="779.53" r="3.3"/><circle cx="173.86" cy="779.3" r="3.3"/><circle cx="180.61" cy="783.72" r="3.3"/><circle cx="111.78" cy="787.8" r="3.3"/><circle cx="172.11" cy="789.43" r="3.3"/><circle cx="151.15" cy="791.18" r="3.3"/><circle cx="129.37" cy="790.6" r="3.3"/><circle cx="127.27" cy="793.62" r="3.3"/><circle cx="135.77" cy="792.93" r="3.3"/><circle cx="117.37" cy="799.68" r="3.3"/><circle cx="148.47" cy="799.68" r="3.3"/><circle cx="170.95" cy="801.66" r="3.3"/><circle cx="108.63" cy="804.34" r="3.3"/><circle cx="289.98" cy="800.61" r="3.3"/><circle cx="127.85" cy="807.6" r="3.3"/><circle cx="157.55" cy="807.25" r="3.3"/><circle cx="197.97" cy="808.77" r="3.3"/><circle cx="130.53" cy="814.82" r="3.3"/><circle cx="130.53" cy="818.32" r="3.3"/><circle cx="163.38" cy="815.99" r="3.3"/><circle cx="166.29" cy="818.32" r="3.3"/><circle cx="165.47" cy="822.39" r="3.3"/><circle cx="197.97" cy="818.32" r="3.3"/><circle cx="144.39" cy="822.04" r="3.3"/><circle cx="173.86" cy="827.05" r="3.3"/><circle cx="195.64" cy="829.38" r="3.3"/><circle cx="125.52" cy="827.63" r="3.3"/><circle cx="125.17" cy="831.13" r="3.3"/><circle cx="193.07" cy="844.52" r="3.3"/><circle cx="122.61" cy="846.27" r="3.3"/><circle cx="140.08" cy="846.85" r="3.3"/><circle cx="135.77" cy="850.11" r="3.3"/><circle cx="151.5" cy="853.49" r="3.3"/><circle cx="143.34" cy="860.83" r="3.3"/><circle cx="137.17" cy="864.32" r="3.3"/><circle cx="124.94" cy="875.62" r="3.3"/><circle cx="127.27" cy="725.14" r="3.3"/><circle cx="123.78" cy="718.74" r="3.3"/><circle cx="144.74" cy="722.81" r="3.3"/><circle cx="153.48" cy="723.98" r="3.3"/><circle cx="141.25" cy="730.96" r="3.3"/><circle cx="316.5" cy="713.6" r="3.3"/></g>
<path d="M98.6 718.9L103.14 720.66L107.68 722.4L112.22 724.11L116.76 725.77L121.3 727.39L125.84 728.93L130.38 730.38L134.92 731.71L139.46 732.88L144 733.85L148.54 734.59L153.07 735.11L157.61 735.4L162.15 735.5L166.69 735.45L171.23 735.29L175.77 735.04L180.31 734.72L184.85 734.35L189.39 733.95L193.93 733.51L198.47 733.05L203.01 732.58L207.55 732.09L212.09 731.58L216.63 731.07L221.17 730.55L225.71 730.02L230.25 729.48L234.79 728.94L239.33 728.4L243.87 727.85L248.41 727.3L252.95 726.74L257.49 726.19L262.02 725.63L266.56 725.06L271.1 724.5L275.64 723.94L280.18 723.37L284.72 722.8L289.26 722.23L293.8 721.66L298.34 721.09L302.88 720.52L307.42 719.95L311.96 719.37L316.5 718.8L316.5 811.8L311.96 809.92L307.42 808.04L302.88 806.15L298.34 804.27L293.8 802.4L289.26 800.52L284.72 798.64L280.18 796.76L275.64 794.89L271.1 793.02L266.56 791.14L262.02 789.27L257.49 787.41L252.95 785.54L248.41 783.68L243.87 781.82L239.33 779.96L234.79 778.11L230.25 776.26L225.71 774.42L221.17 772.58L216.63 770.75L212.09 768.93L207.55 767.11L203.01 765.31L198.47 763.53L193.93 761.76L189.39 760.02L184.85 758.3L180.31 756.63L175.77 755L171.23 753.44L166.69 751.97L162.15 750.61L157.61 749.41L153.07 748.39L148.54 747.6L144 747.04L139.46 746.7L134.92 746.56L130.38 746.58L125.84 746.72L121.3 746.96L116.76 747.26L112.22 747.62L107.68 748.02L103.14 748.45L98.6 748.9Z" fill="#999999" fill-opacity="0.4"/>
<path d="M98.6 733.9L316.5 765.3" stroke="#FFD700" stroke-width="4.0" fill="none"/>
<rect x="78.9" y="533.8" width="443.2" height="396.5" fill="none" stroke="#333333" stroke-width="1.2"/>
<rect x="78.9" y="489.4" width="443.2" height="44.4" fill="#D9D9D9" stroke="#333333" stroke-width="1.2"/>
<path d="M78.3 533.8H522.7" stroke="#333333" stroke-width="1.9"/>
<text x="300.5" y="521.1" font-size="28.5" text-anchor="middle" textLength="93" lengthAdjust="spacingAndGlyphs" fill="#1A1A1A" stroke="#D9D9D9" stroke-width="0.3">A+/TN−</text>
<text x="68.6" y="568.93" font-size="23" text-anchor="end" fill="#000" stroke="#000" stroke-width="0.35">3</text>
<text x="68.6" y="635.83" font-size="23" text-anchor="end" fill="#000" stroke="#000" stroke-width="0.35">2</text>
<text x="68.6" y="702.73" font-size="23" text-anchor="end" fill="#000" stroke="#000" stroke-width="0.35">1</text>
<text x="68.6" y="769.63" font-size="23" text-anchor="end" fill="#000" stroke="#000" stroke-width="0.35">0</text>
<text x="68.6" y="836.53" font-size="23" text-anchor="end" fill="#000" stroke="#000" stroke-width="0.35">−1</text>
<text x="68.6" y="903.43" font-size="23" text-anchor="end" fill="#000" stroke="#000" stroke-width="0.35">−2</text>
<text x="88.4" y="957.5" font-size="23" text-anchor="middle" fill="#000" stroke="#000" stroke-width="0.35">0</text>
<text x="192.4" y="957.5" font-size="23" text-anchor="middle" fill="#000" stroke="#000" stroke-width="0.35">5000</text>
<text x="296.4" y="957.5" font-size="23" text-anchor="middle" fill="#000" stroke="#000" stroke-width="0.35">10000</text>
<text x="400.4" y="957.5" font-size="23" text-anchor="middle" fill="#000" stroke="#000" stroke-width="0.35">15000</text>
<text x="504.4" y="957.5" font-size="23" text-anchor="middle" fill="#000" stroke="#000" stroke-width="0.35">20000</text>
<path d="M72.9 561.2H78.9" stroke="#333333" stroke-width="2.0"/><path d="M72.9 628.1H78.9" stroke="#333333" stroke-width="2.0"/><path d="M72.9 695H78.9" stroke="#333333" stroke-width="2.0"/><path d="M72.9 761.9H78.9" stroke="#333333" stroke-width="2.0"/><path d="M72.9 828.8H78.9" stroke="#333333" stroke-width="2.0"/><path d="M72.9 895.7H78.9" stroke="#333333" stroke-width="2.0"/><path d="M88.4 930.3V936.3" stroke="#333333" stroke-width="2.0"/><path d="M192.4 930.3V936.3" stroke="#333333" stroke-width="2.0"/><path d="M296.4 930.3V936.3" stroke="#333333" stroke-width="2.0"/><path d="M400.4 930.3V936.3" stroke="#333333" stroke-width="2.0"/><path d="M504.4 930.3V936.3" stroke="#333333" stroke-width="2.0"/>
</g>
<g id="A_BR">
<rect x="533.8" y="533.8" width="442.7" height="396.5" fill="#fff"/>
<g stroke="#EBEBEB" fill="none"><path d="M533.8 594.65H976.5" stroke-width="1.0"/><path d="M533.8 661.55H976.5" stroke-width="1.0"/><path d="M533.8 728.45H976.5" stroke-width="1.0"/><path d="M533.8 795.35H976.5" stroke-width="1.0"/><path d="M533.8 862.25H976.5" stroke-width="1.0"/><path d="M533.8 929.15H976.5" stroke-width="1.0"/><path d="M595 533.8V930.3" stroke-width="1.0"/><path d="M699 533.8V930.3" stroke-width="1.0"/><path d="M803 533.8V930.3" stroke-width="1.0"/><path d="M907 533.8V930.3" stroke-width="1.0"/><path d="M533.8 561.2H976.5" stroke-width="1.9"/><path d="M533.8 628.1H976.5" stroke-width="1.9"/><path d="M533.8 695H976.5" stroke-width="1.9"/><path d="M533.8 761.9H976.5" stroke-width="1.9"/><path d="M533.8 828.8H976.5" stroke-width="1.9"/><path d="M533.8 895.7H976.5" stroke-width="1.9"/><path d="M543 533.8V930.3" stroke-width="1.9"/><path d="M647 533.8V930.3" stroke-width="1.9"/><path d="M751 533.8V930.3" stroke-width="1.9"/><path d="M855 533.8V930.3" stroke-width="1.9"/><path d="M959 533.8V930.3" stroke-width="1.9"/></g>
<g fill="#FFA500"><circle cx="686.16" cy="614.91" r="3.3"/><circle cx="656.81" cy="642.16" r="3.3"/><circle cx="638.99" cy="646.24" r="3.3"/><circle cx="645.16" cy="652.99" r="3.3"/><circle cx="674.51" cy="648.68" r="3.3"/><circle cx="597.06" cy="659.75" r="3.3"/><circle cx="606.73" cy="659.75" r="3.3"/><circle cx="612.2" cy="664.64" r="3.3"/><circle cx="630.95" cy="663.48" r="3.3"/><circle cx="641.32" cy="663.82" r="3.3"/><circle cx="596.48" cy="672.79" r="3.3"/><circle cx="608.48" cy="672.56" r="3.3"/><circle cx="623.97" cy="678.97" r="3.3"/><circle cx="598.92" cy="681.3" r="3.3"/><circle cx="611.39" cy="683.86" r="3.3"/><circle cx="564.22" cy="681.88" r="3.3"/><circle cx="673.46" cy="679.43" r="3.3"/><circle cx="622.8" cy="687" r="3.3"/><circle cx="686.16" cy="689.1" r="3.3"/><circle cx="688.02" cy="693.17" r="3.3"/><circle cx="680.34" cy="696.32" r="3.3"/><circle cx="717.96" cy="689.1" r="3.3"/><circle cx="717.37" cy="696.9" r="3.3"/><circle cx="729.02" cy="699.81" r="3.3"/><circle cx="703.16" cy="700.4" r="3.3"/><circle cx="658.79" cy="691.66" r="3.3"/><circle cx="640.27" cy="692.94" r="3.3"/><circle cx="632.93" cy="692.59" r="3.3"/><circle cx="631.77" cy="695.74" r="3.3"/><circle cx="591.35" cy="691.43" r="3.3"/><circle cx="587.16" cy="693.76" r="3.3"/><circle cx="587.86" cy="697.83" r="3.3"/><circle cx="578.19" cy="698.65" r="3.3"/><circle cx="582.85" cy="701.33" r="3.3"/><circle cx="577.03" cy="705.99" r="3.3"/><circle cx="582.85" cy="706.22" r="3.3"/><circle cx="617.79" cy="696.67" r="3.3"/><circle cx="618.96" cy="699" r="3.3"/><circle cx="614.65" cy="700.16" r="3.3"/><circle cx="611.74" cy="701.33" r="3.3"/><circle cx="649.59" cy="702.49" r="3.3"/><circle cx="669.85" cy="706.57" r="3.3"/><circle cx="657.97" cy="709.71" r="3.3"/><circle cx="603.23" cy="708.32" r="3.3"/><circle cx="625.95" cy="709.48" r="3.3"/><circle cx="584.25" cy="714.14" r="3.3"/><circle cx="650.17" cy="715.3" r="3.3"/><circle cx="662.28" cy="717.05" r="3.3"/><circle cx="601.49" cy="717.63" r="3.3"/><circle cx="593.92" cy="719.61" r="3.3"/><circle cx="571.44" cy="719.03" r="3.3"/><circle cx="645.51" cy="720.55" r="3.3"/><circle cx="577.96" cy="727.18" r="3.3"/><circle cx="593.1" cy="726.95" r="3.3"/><circle cx="603.58" cy="725.79" r="3.3"/><circle cx="609.87" cy="728.12" r="3.3"/><circle cx="617.79" cy="724.04" r="3.3"/><circle cx="615.46" cy="725.79" r="3.3"/><circle cx="622.45" cy="726.37" r="3.3"/><circle cx="644.58" cy="726.95" r="3.3"/><circle cx="642.83" cy="729.86" r="3.3"/><circle cx="647.26" cy="729.86" r="3.3"/><circle cx="656.46" cy="727.77" r="3.3"/><circle cx="666.94" cy="727.77" r="3.3"/><circle cx="676.61" cy="731.03" r="3.3"/><circle cx="671.6" cy="733.94" r="3.3"/><circle cx="588.68" cy="732.77" r="3.3"/><circle cx="589.84" cy="736.85" r="3.3"/><circle cx="591.01" cy="740.93" r="3.3"/><circle cx="574.12" cy="735.69" r="3.3"/><circle cx="579.94" cy="738.6" r="3.3"/><circle cx="577.03" cy="741.51" r="3.3"/><circle cx="618.96" cy="733.36" r="3.3"/><circle cx="616.05" cy="736.27" r="3.3"/><circle cx="611.39" cy="739.18" r="3.3"/><circle cx="608.48" cy="742.09" r="3.3"/><circle cx="607.31" cy="743.84" r="3.3"/><circle cx="602.3" cy="738.6" r="3.3"/><circle cx="631.77" cy="735.1" r="3.3"/><circle cx="635.26" cy="737.43" r="3.3"/><circle cx="630.6" cy="742.09" r="3.3"/><circle cx="637.01" cy="741.51" r="3.3"/><circle cx="640.5" cy="744.42" r="3.3"/><circle cx="703.16" cy="736.85" r="3.3"/><circle cx="705.14" cy="743.84" r="3.3"/><circle cx="710.39" cy="745" r="3.3"/><circle cx="712.71" cy="748.5" r="3.3"/><circle cx="713.53" cy="752.81" r="3.3"/><circle cx="705.49" cy="753.97" r="3.3"/><circle cx="653.9" cy="746.52" r="3.3"/><circle cx="662.05" cy="750.24" r="3.3"/><circle cx="683.02" cy="750.24" r="3.3"/><circle cx="588.68" cy="746.17" r="3.3"/><circle cx="591.59" cy="747.92" r="3.3"/><circle cx="592.75" cy="752.57" r="3.3"/><circle cx="595.08" cy="756.07" r="3.3"/><circle cx="579.71" cy="754.9" r="3.3"/><circle cx="583.43" cy="758.4" r="3.3"/><circle cx="614.88" cy="753.74" r="3.3"/><circle cx="612.55" cy="756.07" r="3.3"/><circle cx="629.79" cy="752.57" r="3.3"/><circle cx="631.77" cy="757.82" r="3.3"/><circle cx="639.34" cy="753.74" r="3.3"/><circle cx="644" cy="751.99" r="3.3"/><circle cx="648.07" cy="750.24" r="3.3"/><circle cx="650.99" cy="752.57" r="3.3"/><circle cx="641.67" cy="757.23" r="3.3"/><circle cx="622.45" cy="758.98" r="3.3"/><circle cx="656.46" cy="759.8" r="3.3"/><circle cx="661.12" cy="758.05" r="3.3"/><circle cx="677.77" cy="759.56" r="3.3"/><circle cx="574.12" cy="759.8" r="3.3"/><circle cx="762.8" cy="758.4" r="3.3"/><circle cx="574.12" cy="760.24" r="3.3"/><circle cx="573.53" cy="768.98" r="3.3"/><circle cx="584.6" cy="760.82" r="3.3"/><circle cx="588.09" cy="765.48" r="3.3"/><circle cx="585.76" cy="770.14" r="3.3"/><circle cx="591.59" cy="761.99" r="3.3"/><circle cx="596.83" cy="760.82" r="3.3"/><circle cx="596.25" cy="768.98" r="3.3"/><circle cx="604.4" cy="764.32" r="3.3"/><circle cx="606.15" cy="770.14" r="3.3"/><circle cx="614.88" cy="760.82" r="3.3"/><circle cx="617.21" cy="766.65" r="3.3"/><circle cx="619.54" cy="772.47" r="3.3"/><circle cx="625.95" cy="764.9" r="3.3"/><circle cx="622.45" cy="760.24" r="3.3"/><circle cx="631.19" cy="760.24" r="3.3"/><circle cx="641.67" cy="760.24" r="3.3"/><circle cx="637.01" cy="768.39" r="3.3"/><circle cx="643.42" cy="769.56" r="3.3"/><circle cx="649.82" cy="770.72" r="3.3"/><circle cx="656.46" cy="760.24" r="3.3"/><circle cx="660.89" cy="770.14" r="3.3"/><circle cx="670.2" cy="768.98" r="3.3"/><circle cx="671.37" cy="772.47" r="3.3"/><circle cx="682.43" cy="763.74" r="3.3"/><circle cx="706.31" cy="761.41" r="3.3"/><circle cx="709.8" cy="769.21" r="3.3"/><circle cx="760.47" cy="766.65" r="3.3"/><circle cx="573.53" cy="775.96" r="3.3"/><circle cx="579.94" cy="776.55" r="3.3"/><circle cx="588.09" cy="774.22" r="3.3"/><circle cx="603.23" cy="778.29" r="3.3"/><circle cx="610.22" cy="777.71" r="3.3"/><circle cx="618.38" cy="778.29" r="3.3"/><circle cx="640.5" cy="774.22" r="3.3"/><circle cx="645.16" cy="775.96" r="3.3"/><circle cx="666.13" cy="780.04" r="3.3"/><circle cx="687.09" cy="773.63" r="3.3"/><circle cx="688.26" cy="777.71" r="3.3"/><circle cx="695.24" cy="777.13" r="3.3"/><circle cx="699.9" cy="775.38" r="3.3"/><circle cx="710.97" cy="776.55" r="3.3"/><circle cx="637.59" cy="784.7" r="3.3"/><circle cx="625.95" cy="786.45" r="3.3"/><circle cx="657.39" cy="786.45" r="3.3"/><circle cx="671.37" cy="787.61" r="3.3"/><circle cx="678.94" cy="787.03" r="3.3"/><circle cx="709.22" cy="787.96" r="3.3"/><circle cx="739.74" cy="782.6" r="3.3"/><circle cx="577.03" cy="786.45" r="3.3"/><circle cx="583.43" cy="786.45" r="3.3"/><circle cx="589.26" cy="785.86" r="3.3"/><circle cx="602.07" cy="786.45" r="3.3"/><circle cx="609.06" cy="785.86" r="3.3"/><circle cx="614.88" cy="786.45" r="3.3"/><circle cx="694.66" cy="791.11" r="3.3"/><circle cx="701.3" cy="793.78" r="3.3"/><circle cx="664.38" cy="792.85" r="3.3"/><circle cx="670.79" cy="791.69" r="3.3"/><circle cx="638.76" cy="793.2" r="3.3"/><circle cx="656.46" cy="796.11" r="3.3"/><circle cx="569.81" cy="791.45" r="3.3"/><circle cx="576.45" cy="792.27" r="3.3"/><circle cx="579.94" cy="798.09" r="3.3"/><circle cx="584.6" cy="793.43" r="3.3"/><circle cx="585.76" cy="800.42" r="3.3"/><circle cx="591.59" cy="795.76" r="3.3"/><circle cx="596.25" cy="799.26" r="3.3"/><circle cx="598.58" cy="792.27" r="3.3"/><circle cx="605.56" cy="791.11" r="3.3"/><circle cx="610.22" cy="794.6" r="3.3"/><circle cx="614.88" cy="792.27" r="3.3"/><circle cx="619.54" cy="794.6" r="3.3"/><circle cx="624.2" cy="793.43" r="3.3"/><circle cx="637.01" cy="798.33" r="3.3"/><circle cx="637.59" cy="801.01" r="3.3"/><circle cx="612.55" cy="799.26" r="3.3"/><circle cx="617.21" cy="800.42" r="3.3"/><circle cx="625.36" cy="799.26" r="3.3"/><circle cx="628.28" cy="801.59" r="3.3"/><circle cx="719.7" cy="799.84" r="3.3"/><circle cx="645.75" cy="801.01" r="3.3"/><circle cx="649.24" cy="805.08" r="3.3"/><circle cx="653.32" cy="802.75" r="3.3"/><circle cx="687.09" cy="801.59" r="3.3"/><circle cx="677.19" cy="804.5" r="3.3"/><circle cx="681.27" cy="805.66" r="3.3"/><circle cx="582.27" cy="806.25" r="3.3"/><circle cx="581.11" cy="810.9" r="3.3"/><circle cx="598.58" cy="806.25" r="3.3"/><circle cx="603.23" cy="803.92" r="3.3"/><circle cx="610.22" cy="805.08" r="3.3"/><circle cx="613.72" cy="807.41" r="3.3"/><circle cx="621.87" cy="806.25" r="3.3"/><circle cx="626.53" cy="808.58" r="3.3"/><circle cx="631.19" cy="807.41" r="3.3"/><circle cx="619.54" cy="812.07" r="3.3"/><circle cx="605.56" cy="812.07" r="3.3"/><circle cx="612.55" cy="813.23" r="3.3"/><circle cx="640.5" cy="810.9" r="3.3"/><circle cx="641.67" cy="814.4" r="3.3"/><circle cx="667.29" cy="809.74" r="3.3"/><circle cx="669.62" cy="814.4" r="3.3"/><circle cx="658.91" cy="814.75" r="3.3"/><circle cx="691.52" cy="807.76" r="3.3"/><circle cx="694.08" cy="811.49" r="3.3"/><circle cx="695.83" cy="814.4" r="3.3"/><circle cx="686.28" cy="814.17" r="3.3"/><circle cx="587.86" cy="812.65" r="3.3"/><circle cx="588.68" cy="818.48" r="3.3"/><circle cx="566.55" cy="813.58" r="3.3"/><circle cx="596.25" cy="818.71" r="3.3"/><circle cx="578.19" cy="819.64" r="3.3"/><circle cx="577.03" cy="824.88" r="3.3"/><circle cx="633.52" cy="815.56" r="3.3"/><circle cx="634.68" cy="820.22" r="3.3"/><circle cx="611.97" cy="821.39" r="3.3"/><circle cx="665.55" cy="818.48" r="3.3"/><circle cx="651.92" cy="821.04" r="3.3"/><circle cx="673.12" cy="823.37" r="3.3"/><circle cx="643.07" cy="823.37" r="3.3"/><circle cx="685.34" cy="822.55" r="3.3"/><circle cx="625.36" cy="821.39" r="3.3"/><circle cx="621.87" cy="824.88" r="3.3"/><circle cx="619.54" cy="828.38" r="3.3"/><circle cx="602.07" cy="825.46" r="3.3"/><circle cx="599.74" cy="829.54" r="3.3"/><circle cx="606.73" cy="828.38" r="3.3"/><circle cx="603.23" cy="834.2" r="3.3"/><circle cx="586.93" cy="824.88" r="3.3"/><circle cx="589.26" cy="829.54" r="3.3"/><circle cx="591.59" cy="833.03" r="3.3"/><circle cx="555.13" cy="824.53" r="3.3"/><circle cx="664.96" cy="826.05" r="3.3"/><circle cx="659.72" cy="829.54" r="3.3"/><circle cx="652.73" cy="828.96" r="3.3"/><circle cx="684.76" cy="829.77" r="3.3"/><circle cx="740.43" cy="819.99" r="3.3"/><circle cx="733.1" cy="825.81" r="3.3"/><circle cx="749.05" cy="823.48" r="3.3"/><circle cx="758.37" cy="821.62" r="3.3"/><circle cx="722.27" cy="831.52" r="3.3"/><circle cx="698.16" cy="833.62" r="3.3"/><circle cx="704.56" cy="833.03" r="3.3"/><circle cx="573.19" cy="832.45" r="3.3"/><circle cx="579.36" cy="836.18" r="3.3"/><circle cx="614.88" cy="833.03" r="3.3"/><circle cx="611.97" cy="838.86" r="3.3"/><circle cx="606.15" cy="840.02" r="3.3"/><circle cx="627.34" cy="834.55" r="3.3"/><circle cx="621.29" cy="837.93" r="3.3"/><circle cx="654.48" cy="835.36" r="3.3"/><circle cx="647.84" cy="836.53" r="3.3"/><circle cx="587.51" cy="840.02" r="3.3"/><circle cx="746.72" cy="835.95" r="3.3"/><circle cx="735.78" cy="837.93" r="3.3"/><circle cx="731.93" cy="843.75" r="3.3"/><circle cx="666.13" cy="840.02" r="3.3"/><circle cx="665.55" cy="842.93" r="3.3"/><circle cx="596.25" cy="842.93" r="3.3"/><circle cx="595.31" cy="847.01" r="3.3"/><circle cx="622.45" cy="845.85" r="3.3"/><circle cx="602.65" cy="848.17" r="3.3"/><circle cx="605.56" cy="851.67" r="3.3"/><circle cx="685.93" cy="849.57" r="3.3"/><circle cx="628.28" cy="849.92" r="3.3"/><circle cx="630.6" cy="854" r="3.3"/><circle cx="621.87" cy="854.58" r="3.3"/><circle cx="632.35" cy="857.49" r="3.3"/><circle cx="626.53" cy="859.82" r="3.3"/><circle cx="646.91" cy="856.68" r="3.3"/><circle cx="653.9" cy="857.49" r="3.3"/><circle cx="691.4" cy="858.07" r="3.3"/><circle cx="738.11" cy="859.24" r="3.3"/><circle cx="578.78" cy="860.64" r="3.3"/><circle cx="587.74" cy="859.01" r="3.3"/><circle cx="602.42" cy="860.64" r="3.3"/><circle cx="642.83" cy="862.15" r="3.3"/><circle cx="619.54" cy="863.9" r="3.3"/><circle cx="608.13" cy="865.06" r="3.3"/><circle cx="678.94" cy="863.9" r="3.3"/><circle cx="586.35" cy="866.23" r="3.3"/><circle cx="595.08" cy="869.72" r="3.3"/><circle cx="628.28" cy="869.49" r="3.3"/><circle cx="614.88" cy="871.12" r="3.3"/><circle cx="646.68" cy="871.47" r="3.3"/><circle cx="655.06" cy="870.89" r="3.3"/><circle cx="670.2" cy="871.12" r="3.3"/><circle cx="586.58" cy="876.71" r="3.3"/><circle cx="589.26" cy="881.95" r="3.3"/><circle cx="608.48" cy="877.29" r="3.3"/><circle cx="605.56" cy="879.62" r="3.3"/><circle cx="673.46" cy="881.72" r="3.3"/><circle cx="595.08" cy="888.71" r="3.3"/><circle cx="683.02" cy="889.87" r="3.3"/><circle cx="635.5" cy="913.4" r="3.3"/><circle cx="581.11" cy="764.9" r="3.3"/><circle cx="589.84" cy="767.81" r="3.3"/><circle cx="593.92" cy="766.06" r="3.3"/><circle cx="600.9" cy="771.31" r="3.3"/><circle cx="607.89" cy="761.41" r="3.3"/><circle cx="583.43" cy="772.47" r="3.3"/><circle cx="599.74" cy="772.47" r="3.3"/><circle cx="612.55" cy="768.98" r="3.3"/><circle cx="618.38" cy="761.99" r="3.3"/><circle cx="620.7" cy="768.98" r="3.3"/><circle cx="616.05" cy="771.89" r="3.3"/><circle cx="639.34" cy="771.31" r="3.3"/><circle cx="638.17" cy="775.96" r="3.3"/><circle cx="644" cy="773.63" r="3.3"/><circle cx="574.12" cy="795.76" r="3.3"/><circle cx="578.78" cy="794.6" r="3.3"/><circle cx="583.43" cy="801.59" r="3.3"/><circle cx="589.26" cy="803.92" r="3.3"/><circle cx="593.92" cy="794.6" r="3.3"/><circle cx="600.9" cy="798.09" r="3.3"/><circle cx="607.89" cy="801.59" r="3.3"/><circle cx="605.56" cy="806.25" r="3.3"/><circle cx="600.9" cy="808.58" r="3.3"/><circle cx="595.08" cy="808.58" r="3.3"/><circle cx="610.22" cy="809.74" r="3.3"/><circle cx="616.05" cy="805.08" r="3.3"/><circle cx="614.88" cy="809.74" r="3.3"/><circle cx="623.03" cy="810.9" r="3.3"/><circle cx="628.86" cy="805.08" r="3.3"/><circle cx="631.19" cy="810.9" r="3.3"/><circle cx="626.53" cy="814.4" r="3.3"/><circle cx="617.21" cy="795.76" r="3.3"/><circle cx="610.22" cy="789.94" r="3.3"/><circle cx="603.23" cy="788.78" r="3.3"/><circle cx="585.76" cy="821.39" r="3.3"/><circle cx="593.92" cy="824.88" r="3.3"/><circle cx="597.41" cy="831.87" r="3.3"/><circle cx="605.56" cy="824.88" r="3.3"/><circle cx="610.22" cy="829.54" r="3.3"/><circle cx="617.21" cy="831.87" r="3.3"/><circle cx="607.89" cy="835.36" r="3.3"/><circle cx="600.9" cy="838.86" r="3.3"/><circle cx="612.55" cy="824.88" r="3.3"/><circle cx="619.54" cy="822.55" r="3.3"/><circle cx="590.42" cy="836.53" r="3.3"/><circle cx="626.53" cy="851.67" r="3.3"/><circle cx="628.86" cy="856.33" r="3.3"/><circle cx="624.2" cy="857.49" r="3.3"/><circle cx="620.7" cy="862.15" r="3.3"/><circle cx="649.82" cy="801.59" r="3.3"/><circle cx="666.13" cy="813.23" r="3.3"/><circle cx="589.26" cy="743.26" r="3.3"/><circle cx="590.42" cy="750.24" r="3.3"/><circle cx="585.76" cy="754.9" r="3.3"/><circle cx="593.92" cy="757.23" r="3.3"/><circle cx="613.72" cy="737.43" r="3.3"/><circle cx="633.52" cy="739.76" r="3.3"/><circle cx="638.17" cy="742.09" r="3.3"/><circle cx="634.68" cy="744.42" r="3.3"/><circle cx="617.21" cy="757.23" r="3.3"/><circle cx="633.52" cy="754.9" r="3.3"/><circle cx="635.85" cy="758.4" r="3.3"/><circle cx="646.33" cy="753.74" r="3.3"/><circle cx="652.15" cy="749.08" r="3.3"/><circle cx="778.3" cy="706.9" r="3.3"/><circle cx="767.8" cy="820.5" r="3.3"/><circle cx="848.1" cy="815.8" r="3.3"/><circle cx="847.2" cy="780.5" r="3.3"/><circle cx="956.7" cy="790" r="3.3"/></g>
<path d="M555.2 772.5L563.57 773.35L571.95 774.17L580.32 774.97L588.69 775.74L597.06 776.44L605.44 777.08L613.81 777.62L622.18 778.02L630.56 778.25L638.93 778.29L647.3 778.13L655.68 777.81L664.05 777.36L672.42 776.82L680.79 776.2L689.17 775.54L697.54 774.84L705.91 774.11L714.29 773.37L722.66 772.61L731.03 771.83L739.4 771.05L747.78 770.26L756.15 769.46L764.52 768.66L772.9 767.85L781.27 767.04L789.64 766.23L798.01 765.42L806.39 764.6L814.76 763.78L823.13 762.96L831.51 762.14L839.88 761.31L848.25 760.49L856.62 759.66L865 758.84L873.37 758.01L881.74 757.18L890.12 756.35L898.49 755.52L906.86 754.69L915.24 753.86L923.61 753.03L931.98 752.2L940.35 751.37L948.73 750.53L957.1 749.7L957.1 818.9L948.73 817.96L940.35 817.03L931.98 816.09L923.61 815.15L915.24 814.22L906.86 813.28L898.49 812.35L890.12 811.42L881.74 810.48L873.37 809.55L865 808.62L856.62 807.69L848.25 806.76L839.88 805.83L831.51 804.9L823.13 803.97L814.76 803.05L806.39 802.13L798.01 801.2L789.64 800.28L781.27 799.37L772.9 798.45L764.52 797.54L756.15 796.64L747.78 795.74L739.4 794.84L731.03 793.96L722.66 793.08L714.29 792.21L705.91 791.36L697.54 790.53L689.17 789.73L680.79 788.96L672.42 788.24L664.05 787.59L655.68 787.04L647.3 786.61L638.93 786.35L630.56 786.29L622.18 786.41L613.81 786.71L605.44 787.14L597.06 787.68L588.69 788.28L580.32 788.94L571.95 789.63L563.57 790.36L555.2 791.1Z" fill="#999999" fill-opacity="0.4"/>
<path d="M555.2 781.8L957.1 784.3" stroke="#FFD700" stroke-width="4.0" fill="none"/>
<rect x="533.8" y="533.8" width="442.7" height="396.5" fill="none" stroke="#333333" stroke-width="1.2"/>
<path d="M976.8 534.8V929.3" stroke="#C4C4C4" stroke-width="1.4" fill="none"/>
<rect x="533.8" y="489.4" width="442.7" height="44.4" fill="#D9D9D9" stroke="#333333" stroke-width="1.2"/>
<path d="M533.2 533.8H977.1" stroke="#333333" stroke-width="1.9"/>
<text x="755.15" y="521.1" font-size="28.5" text-anchor="middle" textLength="93" lengthAdjust="spacingAndGlyphs" fill="#1A1A1A" stroke="#D9D9D9" stroke-width="0.3">A+/TN+</text>
<text x="543" y="957.5" font-size="23" text-anchor="middle" fill="#000" stroke="#000" stroke-width="0.35" clip-path="url(#cropA)">0</text>
<text x="647" y="957.5" font-size="23" text-anchor="middle" fill="#000" stroke="#000" stroke-width="0.35" clip-path="url(#cropA)">5000</text>
<text x="751" y="957.5" font-size="23" text-anchor="middle" fill="#000" stroke="#000" stroke-width="0.35" clip-path="url(#cropA)">10000</text>
<text x="855" y="957.5" font-size="23" text-anchor="middle" fill="#000" stroke="#000" stroke-width="0.35" clip-path="url(#cropA)">15000</text>
<text x="959" y="957.5" font-size="23" text-anchor="middle" fill="#000" stroke="#000" stroke-width="0.35" clip-path="url(#cropA)">20000</text>
<path d="M543 930.3V936.3" stroke="#333333" stroke-width="2.0"/><path d="M647 930.3V936.3" stroke="#333333" stroke-width="2.0"/><path d="M751 930.3V936.3" stroke="#333333" stroke-width="2.0"/><path d="M855 930.3V936.3" stroke="#333333" stroke-width="2.0"/><path d="M959 930.3V936.3" stroke="#333333" stroke-width="2.0"/>
</g>
<g id="B_TL">
<rect x="1108.1" y="81" width="441.1" height="395" fill="#fff"/>
<g stroke="#EBEBEB" fill="none"><path d="M1108.1 141.32H1549.2" stroke-width="1.0"/><path d="M1108.1 207.88H1549.2" stroke-width="1.0"/><path d="M1108.1 274.43H1549.2" stroke-width="1.0"/><path d="M1108.1 340.97H1549.2" stroke-width="1.0"/><path d="M1108.1 407.52H1549.2" stroke-width="1.0"/><path d="M1108.1 474.07H1549.2" stroke-width="1.0"/><path d="M1202.7 81V476" stroke-width="1.0"/><path d="M1350.3 81V476" stroke-width="1.0"/><path d="M1497.9 81V476" stroke-width="1.0"/><path d="M1108.1 108.05H1549.2" stroke-width="1.9"/><path d="M1108.1 174.6H1549.2" stroke-width="1.9"/><path d="M1108.1 241.15H1549.2" stroke-width="1.9"/><path d="M1108.1 307.7H1549.2" stroke-width="1.9"/><path d="M1108.1 374.25H1549.2" stroke-width="1.9"/><path d="M1108.1 440.8H1549.2" stroke-width="1.9"/><path d="M1128.9 81V476" stroke-width="1.9"/><path d="M1276.5 81V476" stroke-width="1.9"/><path d="M1424.1 81V476" stroke-width="1.9"/></g>
<g fill="#FFA500"><circle cx="1261.87" cy="152.58" r="3.3"/><circle cx="1269.32" cy="168.65" r="3.3"/><circle cx="1249.87" cy="173.78" r="3.3"/><circle cx="1283.18" cy="171.68" r="3.3"/><circle cx="1291.92" cy="174.13" r="3.3"/><circle cx="1272.93" cy="177.85" r="3.3"/><circle cx="1210.86" cy="187.99" r="3.3"/><circle cx="1220.29" cy="193.23" r="3.3"/><circle cx="1216.68" cy="201.5" r="3.3"/><circle cx="1281.67" cy="187.52" r="3.3"/><circle cx="1277.59" cy="190.08" r="3.3"/><circle cx="1274.1" cy="191.83" r="3.3"/><circle cx="1261.52" cy="191.83" r="3.3"/><circle cx="1309.62" cy="202.54" r="3.3"/><circle cx="1389.75" cy="196.49" r="3.3"/><circle cx="1400.47" cy="204.06" r="3.3"/><circle cx="1276.66" cy="200.56" r="3.3"/><circle cx="1279.92" cy="204.06" r="3.3"/><circle cx="1273.52" cy="206.39" r="3.3"/><circle cx="1278.76" cy="209.3" r="3.3"/><circle cx="1238.58" cy="207.78" r="3.3"/><circle cx="1256.28" cy="210.11" r="3.3"/><circle cx="1262.1" cy="209.53" r="3.3"/><circle cx="1289.01" cy="207.78" r="3.3"/><circle cx="1286.33" cy="209.88" r="3.3"/><circle cx="1272.58" cy="213.96" r="3.3"/><circle cx="1222.62" cy="219.2" r="3.3"/><circle cx="1299.49" cy="218.62" r="3.3"/><circle cx="1309.39" cy="220.36" r="3.3"/><circle cx="1275.26" cy="221.53" r="3.3"/><circle cx="1271.77" cy="222.69" r="3.3"/><circle cx="1265.95" cy="224.67" r="3.3"/><circle cx="1287.26" cy="226.42" r="3.3"/><circle cx="1280.15" cy="229.68" r="3.3"/><circle cx="1282.83" cy="233.17" r="3.3"/><circle cx="1250.22" cy="229.68" r="3.3"/><circle cx="1242.88" cy="230.5" r="3.3"/><circle cx="1248.24" cy="235.27" r="3.3"/><circle cx="1238.92" cy="236.67" r="3.3"/><circle cx="1287.26" cy="239.58" r="3.3"/><circle cx="1295.18" cy="239.93" r="3.3"/><circle cx="1259.54" cy="243.31" r="3.3"/><circle cx="1269.09" cy="244.82" r="3.3"/><circle cx="1302.98" cy="246.92" r="3.3"/><circle cx="1317.77" cy="249.48" r="3.3"/><circle cx="1217.96" cy="252.74" r="3.3"/><circle cx="1287.49" cy="250.88" r="3.3"/><circle cx="1270.6" cy="252.39" r="3.3"/><circle cx="1265.36" cy="252.97" r="3.3"/><circle cx="1266.88" cy="255.89" r="3.3"/><circle cx="1300.07" cy="257.4" r="3.3"/><circle cx="1309.62" cy="258.8" r="3.3"/><circle cx="1309.62" cy="261.13" r="3.3"/><circle cx="1370.19" cy="253.56" r="3.3"/><circle cx="1260.12" cy="265.55" r="3.3"/><circle cx="1214.93" cy="266.72" r="3.3"/><circle cx="1230.77" cy="270.1" r="3.3"/><circle cx="1219.01" cy="275.34" r="3.3"/><circle cx="1275.61" cy="268.12" r="3.3"/><circle cx="1283.18" cy="268.7" r="3.3"/><circle cx="1284.58" cy="272.19" r="3.3"/><circle cx="1311.37" cy="266.37" r="3.3"/><circle cx="1313.7" cy="271.03" r="3.3"/><circle cx="1319.52" cy="273.94" r="3.3"/><circle cx="1333.5" cy="271.61" r="3.3"/><circle cx="1393.25" cy="279.18" r="3.3"/><circle cx="1273.52" cy="279.76" r="3.3"/><circle cx="1286.09" cy="278.6" r="3.3"/><circle cx="1287.26" cy="283.84" r="3.3"/><circle cx="1309.39" cy="281.86" r="3.3"/><circle cx="1322.43" cy="284.42" r="3.3"/><circle cx="1338.97" cy="282.44" r="3.3"/><circle cx="1254.53" cy="287.68" r="3.3"/><circle cx="1281.09" cy="286.98" r="3.3"/><circle cx="1290.4" cy="288.85" r="3.3"/><circle cx="1318.71" cy="291.76" r="3.3"/><circle cx="1302.4" cy="293.16" r="3.3"/><circle cx="1299.72" cy="297.47" r="3.3"/><circle cx="1284.58" cy="294.32" r="3.3"/><circle cx="1280.5" cy="296.65" r="3.3"/><circle cx="1274.45" cy="298.05" r="3.3"/><circle cx="1284" cy="298.98" r="3.3"/><circle cx="1246.5" cy="306.32" r="3.3"/><circle cx="1261.64" cy="305.39" r="3.3"/><circle cx="1260.7" cy="310.63" r="3.3"/><circle cx="1270.02" cy="306.32" r="3.3"/><circle cx="1275.85" cy="308.53" r="3.3"/><circle cx="1248.48" cy="314.94" r="3.3"/><circle cx="1189.43" cy="318.43" r="3.3"/><circle cx="1276.08" cy="317.96" r="3.3"/><circle cx="1299.72" cy="327.17" r="3.3"/><circle cx="1321.62" cy="327.51" r="3.3"/><circle cx="1294.13" cy="343.59" r="3.3"/><circle cx="1303.57" cy="346.38" r="3.3"/><circle cx="1255.23" cy="355.82" r="3.3"/><circle cx="1528.9" cy="253.9" r="3.3"/></g>
<path d="M1189.1 222.3L1196.19 224.21L1203.28 226.1L1210.37 227.96L1217.46 229.8L1224.55 231.61L1231.64 233.37L1238.73 235.07L1245.82 236.7L1252.91 238.23L1260 239.62L1267.09 240.85L1274.17 241.87L1281.26 242.65L1288.35 243.15L1295.44 243.4L1302.53 243.41L1309.62 243.23L1316.71 242.9L1323.8 242.45L1330.89 241.91L1337.98 241.3L1345.07 240.64L1352.16 239.94L1359.25 239.2L1366.34 238.44L1373.43 237.66L1380.52 236.86L1387.61 236.05L1394.7 235.23L1401.79 234.4L1408.88 233.56L1415.97 232.71L1423.06 231.86L1430.15 231L1437.24 230.14L1444.33 229.28L1451.41 228.41L1458.5 227.54L1465.59 226.66L1472.68 225.78L1479.77 224.9L1486.86 224.02L1493.95 223.14L1501.04 222.25L1508.13 221.37L1515.22 220.48L1522.31 219.59L1529.4 218.7L1529.4 321.7L1522.31 319.69L1515.22 317.69L1508.13 315.68L1501.04 313.68L1493.95 311.68L1486.86 309.68L1479.77 307.68L1472.68 305.68L1465.59 303.69L1458.5 301.7L1451.41 299.71L1444.33 297.72L1437.24 295.74L1430.15 293.76L1423.06 291.79L1415.97 289.82L1408.88 287.86L1401.79 285.9L1394.7 283.95L1387.61 282.01L1380.52 280.09L1373.43 278.17L1366.34 276.28L1359.25 274.4L1352.16 272.55L1345.07 270.73L1337.98 268.95L1330.89 267.22L1323.8 265.57L1316.71 264L1309.62 262.55L1302.53 261.25L1295.44 260.15L1288.35 259.28L1281.26 258.67L1274.17 258.33L1267.09 258.23L1260 258.34L1252.91 258.62L1245.82 259.03L1238.73 259.54L1231.64 260.13L1224.55 260.77L1217.46 261.46L1210.37 262.19L1203.28 262.94L1196.19 263.71L1189.1 264.5Z" fill="#999999" fill-opacity="0.4"/>
<path d="M1189.1 243.4L1529.4 270.2" stroke="#FFD700" stroke-width="4.0" fill="none"/>
<rect x="1108.1" y="81" width="441.1" height="395" fill="none" stroke="#333333" stroke-width="1.2"/>
<rect x="1108.1" y="36.5" width="441.1" height="44.5" fill="#D9D9D9" stroke="#333333" stroke-width="1.2"/>
<path d="M1107.5 81H1549.8" stroke="#333333" stroke-width="1.9"/>
<text x="1328.65" y="68.3" font-size="28.5" text-anchor="middle" textLength="93" lengthAdjust="spacingAndGlyphs" fill="#1A1A1A" stroke="#D9D9D9" stroke-width="0.3">A−/TN−</text>
<text x="1097.8" y="115.78" font-size="23" text-anchor="end" fill="#000" stroke="#000" stroke-width="0.35">3</text>
<text x="1097.8" y="182.33" font-size="23" text-anchor="end" fill="#000" stroke="#000" stroke-width="0.35">2</text>
<text x="1097.8" y="248.88" font-size="23" text-anchor="end" fill="#000" stroke="#000" stroke-width="0.35">1</text>
<text x="1097.8" y="315.43" font-size="23" text-anchor="end" fill="#000" stroke="#000" stroke-width="0.35">0</text>
<text x="1097.8" y="381.98" font-size="23" text-anchor="end" fill="#000" stroke="#000" stroke-width="0.35">−1</text>
<text x="1097.8" y="448.53" font-size="23" text-anchor="end" fill="#000" stroke="#000" stroke-width="0.35">-2</text>
<path d="M1102.1 108.05H1108.1" stroke="#333333" stroke-width="2.0"/><path d="M1102.1 174.6H1108.1" stroke="#333333" stroke-width="2.0"/><path d="M1102.1 241.15H1108.1" stroke="#333333" stroke-width="2.0"/><path d="M1102.1 307.7H1108.1" stroke="#333333" stroke-width="2.0"/><path d="M1102.1 374.25H1108.1" stroke="#333333" stroke-width="2.0"/><path d="M1102.1 440.8H1108.1" stroke="#333333" stroke-width="2.0"/>
</g>
<g id="B_TR">
<rect x="1560.6" y="81" width="440.5" height="395" fill="#fff"/>
<g stroke="#EBEBEB" fill="none"><path d="M1560.6 141.32H2001.1" stroke-width="1.0"/><path d="M1560.6 207.88H2001.1" stroke-width="1.0"/><path d="M1560.6 274.43H2001.1" stroke-width="1.0"/><path d="M1560.6 340.97H2001.1" stroke-width="1.0"/><path d="M1560.6 407.52H2001.1" stroke-width="1.0"/><path d="M1560.6 474.07H2001.1" stroke-width="1.0"/><path d="M1655 81V476" stroke-width="1.0"/><path d="M1802.6 81V476" stroke-width="1.0"/><path d="M1950.2 81V476" stroke-width="1.0"/><path d="M1560.6 108.05H2001.1" stroke-width="1.9"/><path d="M1560.6 174.6H2001.1" stroke-width="1.9"/><path d="M1560.6 241.15H2001.1" stroke-width="1.9"/><path d="M1560.6 307.7H2001.1" stroke-width="1.9"/><path d="M1560.6 374.25H2001.1" stroke-width="1.9"/><path d="M1560.6 440.8H2001.1" stroke-width="1.9"/><path d="M1581.2 81V476" stroke-width="1.9"/><path d="M1728.8 81V476" stroke-width="1.9"/><path d="M1876.4 81V476" stroke-width="1.9"/></g>
<g fill="#FFA500"><circle cx="1735.44" cy="150.15" r="3.3"/><circle cx="1714.76" cy="164.33" r="3.3"/><circle cx="1759.9" cy="185.54" r="3.3"/><circle cx="1766.15" cy="186.45" r="3.3"/><circle cx="1733.49" cy="193.73" r="3.3"/><circle cx="1728.42" cy="203.36" r="3.3"/><circle cx="1723.47" cy="210.26" r="3.3"/><circle cx="1727.38" cy="214.42" r="3.3"/><circle cx="1752.1" cy="214.16" r="3.3"/><circle cx="1742.08" cy="218.45" r="3.3"/><circle cx="1800.89" cy="212.6" r="3.3"/><circle cx="1783.58" cy="217.15" r="3.3"/><circle cx="1788.92" cy="223.27" r="3.3"/><circle cx="1765.11" cy="221.58" r="3.3"/><circle cx="1697.06" cy="221.58" r="3.3"/><circle cx="1712.41" cy="223.66" r="3.3"/><circle cx="1716.97" cy="226.52" r="3.3"/><circle cx="1724.12" cy="228.47" r="3.3"/><circle cx="1749.88" cy="226.52" r="3.3"/><circle cx="1754.7" cy="232.77" r="3.3"/><circle cx="1771.22" cy="235.37" r="3.3"/><circle cx="1777.86" cy="240.83" r="3.3"/><circle cx="1716.71" cy="243.17" r="3.3"/><circle cx="1744.68" cy="242.78" r="3.3"/><circle cx="1746.89" cy="246.69" r="3.3"/><circle cx="1756.26" cy="246.04" r="3.3"/><circle cx="1779.03" cy="249.55" r="3.3"/><circle cx="1733.23" cy="249.94" r="3.3"/><circle cx="1728.03" cy="254.49" r="3.3"/><circle cx="1742.08" cy="253.84" r="3.3"/><circle cx="1756" cy="253.19" r="3.3"/><circle cx="1785.92" cy="256.06" r="3.3"/><circle cx="1692.64" cy="255.79" r="3.3"/><circle cx="1702.66" cy="255.53" r="3.3"/><circle cx="1721.52" cy="259.7" r="3.3"/><circle cx="1732.58" cy="263.6" r="3.3"/><circle cx="1832.76" cy="259.96" r="3.3"/><circle cx="1643.46" cy="265.16" r="3.3"/><circle cx="1649.57" cy="266.85" r="3.3"/><circle cx="1700.44" cy="266.85" r="3.3"/><circle cx="1774.47" cy="264.25" r="3.3"/><circle cx="1742.34" cy="265.55" r="3.3"/><circle cx="1745.33" cy="267.76" r="3.3"/><circle cx="1723.47" cy="269.46" r="3.3"/><circle cx="1752.49" cy="270.11" r="3.3"/><circle cx="1733.49" cy="273.75" r="3.3"/><circle cx="1763.16" cy="274.01" r="3.3"/><circle cx="1768.36" cy="275.57" r="3.3"/><circle cx="1785.53" cy="276.35" r="3.3"/><circle cx="1796.07" cy="276.22" r="3.3"/><circle cx="1723.47" cy="279.21" r="3.3"/><circle cx="1726.07" cy="281.82" r="3.3"/><circle cx="1733.23" cy="287.02" r="3.3"/><circle cx="1739.09" cy="286.76" r="3.3"/><circle cx="1744.03" cy="287.41" r="3.3"/><circle cx="1734.53" cy="289.62" r="3.3"/><circle cx="1801.93" cy="290.53" r="3.3"/><circle cx="1720.87" cy="302.63" r="3.3"/><circle cx="1723.21" cy="308.75" r="3.3"/><circle cx="1771.35" cy="302.89" r="3.3"/><circle cx="1743.64" cy="310.44" r="3.3"/><circle cx="1746.24" cy="312.13" r="3.3"/><circle cx="1725.42" cy="316.29" r="3.3"/><circle cx="1733.49" cy="319.16" r="3.3"/><circle cx="1804.14" cy="325.4" r="3.3"/><circle cx="1800.5" cy="328.26" r="3.3"/><circle cx="1731.02" cy="334.9" r="3.3"/><circle cx="1714.76" cy="338.02" r="3.3"/><circle cx="1698.36" cy="343.23" r="3.3"/><circle cx="1722.82" cy="342.32" r="3.3"/><circle cx="1819.75" cy="343.36" r="3.3"/><circle cx="1713.06" cy="388.24" r="3.3"/></g>
<path d="M1643.8 227.4L1647.74 228.61L1651.68 229.82L1655.62 231.02L1659.57 232.22L1663.51 233.41L1667.45 234.6L1671.39 235.78L1675.33 236.95L1679.27 238.11L1683.22 239.26L1687.16 240.4L1691.1 241.52L1695.04 242.62L1698.98 243.7L1702.92 244.76L1706.87 245.78L1710.81 246.76L1714.75 247.69L1718.69 248.57L1722.63 249.36L1726.58 250.07L1730.52 250.67L1734.46 251.14L1738.4 251.46L1742.34 251.62L1746.28 251.61L1750.22 251.45L1754.17 251.13L1758.11 250.68L1762.05 250.12L1765.99 249.47L1769.93 248.74L1773.88 247.95L1777.82 247.11L1781.76 246.23L1785.7 245.32L1789.64 244.38L1793.58 243.42L1797.53 242.43L1801.47 241.44L1805.41 240.42L1809.35 239.4L1813.29 238.37L1817.23 237.33L1821.17 236.28L1825.12 235.23L1829.06 234.17L1833 233.1L1833 290.3L1829.06 289.1L1825.12 287.9L1821.17 286.71L1817.23 285.52L1813.29 284.34L1809.35 283.17L1805.41 282.01L1801.47 280.86L1797.53 279.73L1793.58 278.61L1789.64 277.51L1785.7 276.43L1781.76 275.38L1777.82 274.36L1773.88 273.38L1769.93 272.46L1765.99 271.59L1762.05 270.8L1758.11 270.11L1754.17 269.52L1750.22 269.07L1746.28 268.76L1742.34 268.62L1738.4 268.64L1734.46 268.83L1730.52 269.16L1726.58 269.62L1722.63 270.19L1718.69 270.85L1714.75 271.58L1710.81 272.38L1706.87 273.22L1702.92 274.11L1698.98 275.02L1695.04 275.97L1691.1 276.93L1687.16 277.91L1683.22 278.91L1679.27 279.93L1675.33 280.95L1671.39 281.98L1667.45 283.03L1663.51 284.07L1659.57 285.13L1655.62 286.19L1651.68 287.26L1647.74 288.33L1643.8 289.4Z" fill="#999999" fill-opacity="0.4"/>
<path d="M1643.8 258.4L1833 261.7" stroke="#FFD700" stroke-width="4.0" fill="none"/>
<rect x="1560.6" y="81" width="440.5" height="395" fill="none" stroke="#333333" stroke-width="1.2"/>
<rect x="1560.6" y="36.5" width="440.5" height="44.5" fill="#D9D9D9" stroke="#333333" stroke-width="1.2"/>
<path d="M1560 81H2001.7" stroke="#333333" stroke-width="1.9"/>
<text x="1780.85" y="68.3" font-size="28.5" text-anchor="middle" textLength="93" lengthAdjust="spacingAndGlyphs" fill="#1A1A1A" stroke="#D9D9D9" stroke-width="0.3">A−/TN+</text>

</g>
<g id="B_BL">
<rect x="1108.1" y="531.2" width="441.1" height="395.3" fill="#fff"/>
<g stroke="#EBEBEB" fill="none"><path d="M1108.1 592.02H1549.2" stroke-width="1.0"/><path d="M1108.1 658.58H1549.2" stroke-width="1.0"/><path d="M1108.1 725.12H1549.2" stroke-width="1.0"/><path d="M1108.1 791.67H1549.2" stroke-width="1.0"/><path d="M1108.1 858.22H1549.2" stroke-width="1.0"/><path d="M1108.1 924.77H1549.2" stroke-width="1.0"/><path d="M1202.7 531.2V926.5" stroke-width="1.0"/><path d="M1350.3 531.2V926.5" stroke-width="1.0"/><path d="M1497.9 531.2V926.5" stroke-width="1.0"/><path d="M1108.1 558.75H1549.2" stroke-width="1.9"/><path d="M1108.1 625.3H1549.2" stroke-width="1.9"/><path d="M1108.1 691.85H1549.2" stroke-width="1.9"/><path d="M1108.1 758.4H1549.2" stroke-width="1.9"/><path d="M1108.1 824.95H1549.2" stroke-width="1.9"/><path d="M1108.1 891.5H1549.2" stroke-width="1.9"/><path d="M1128.9 531.2V926.5" stroke-width="1.9"/><path d="M1276.5 531.2V926.5" stroke-width="1.9"/><path d="M1424.1 531.2V926.5" stroke-width="1.9"/></g>
<g fill="#FFA500"><circle cx="1268.68" cy="549.67" r="3.3"/><circle cx="1264.68" cy="623.38" r="3.3"/><circle cx="1305.04" cy="638.72" r="3.3"/><circle cx="1333.16" cy="640.28" r="3.3"/><circle cx="1295.03" cy="656.18" r="3.3"/><circle cx="1275.58" cy="659.51" r="3.3"/><circle cx="1269.46" cy="663.96" r="3.3"/><circle cx="1274.46" cy="665.63" r="3.3"/><circle cx="1273.35" cy="668.4" r="3.3"/><circle cx="1277.24" cy="670.07" r="3.3"/><circle cx="1292.25" cy="667.07" r="3.3"/><circle cx="1308.7" cy="672.63" r="3.3"/><circle cx="1278.58" cy="682.52" r="3.3"/><circle cx="1292.81" cy="680.63" r="3.3"/><circle cx="1260.01" cy="685.64" r="3.3"/><circle cx="1302.59" cy="689.86" r="3.3"/><circle cx="1278.35" cy="696.42" r="3.3"/><circle cx="1296.14" cy="704.2" r="3.3"/><circle cx="1283.14" cy="708.09" r="3.3"/><circle cx="1290.36" cy="709.76" r="3.3"/><circle cx="1304.26" cy="708.76" r="3.3"/><circle cx="1299.48" cy="710.09" r="3.3"/><circle cx="1438.44" cy="703.98" r="3.3"/><circle cx="1347.06" cy="714.67" r="3.3"/><circle cx="1275.58" cy="714.45" r="3.3"/><circle cx="1278.35" cy="717.23" r="3.3"/><circle cx="1285.03" cy="715.01" r="3.3"/><circle cx="1285.58" cy="719.46" r="3.3"/><circle cx="1336.72" cy="724.68" r="3.3"/><circle cx="1312.82" cy="726.13" r="3.3"/><circle cx="1315.6" cy="727.24" r="3.3"/><circle cx="1272.8" cy="724.68" r="3.3"/><circle cx="1277.8" cy="729.13" r="3.3"/><circle cx="1297.81" cy="729.46" r="3.3"/><circle cx="1285.03" cy="727.79" r="3.3"/><circle cx="1290.03" cy="732.02" r="3.3"/><circle cx="1276.13" cy="736.46" r="3.3"/><circle cx="1283.91" cy="735.8" r="3.3"/><circle cx="1303.59" cy="737.02" r="3.3"/><circle cx="1299.48" cy="744.8" r="3.3"/><circle cx="1312.82" cy="746.91" r="3.3"/><circle cx="1325.05" cy="750.36" r="3.3"/><circle cx="1303.92" cy="752.25" r="3.3"/><circle cx="1275.58" cy="750.03" r="3.3"/><circle cx="1272.8" cy="753.7" r="3.3"/><circle cx="1277.8" cy="755.03" r="3.3"/><circle cx="1285.03" cy="748.92" r="3.3"/><circle cx="1282.8" cy="753.36" r="3.3"/><circle cx="1289.47" cy="753.14" r="3.3"/><circle cx="1285.58" cy="756.14" r="3.3"/><circle cx="1286.14" cy="759.48" r="3.3"/><circle cx="1300.59" cy="760.59" r="3.3"/><circle cx="1327.27" cy="763.59" r="3.3"/><circle cx="1366.18" cy="767.82" r="3.3"/><circle cx="1306.37" cy="771.71" r="3.3"/><circle cx="1283.69" cy="773.93" r="3.3"/><circle cx="1269.79" cy="787.6" r="3.3"/><circle cx="1330.83" cy="787.49" r="3.3"/><circle cx="1313.04" cy="789.72" r="3.3"/><circle cx="1350.39" cy="797.83" r="3.3"/><circle cx="1285.8" cy="800.61" r="3.3"/><circle cx="1249.45" cy="803.61" r="3.3"/><circle cx="1298.37" cy="811.17" r="3.3"/><circle cx="1285.25" cy="825.63" r="3.3"/><circle cx="1296.48" cy="827.29" r="3.3"/><circle cx="1320.6" cy="859.87" r="3.3"/></g>
<path d="M1249.8 691.9L1253.72 694.44L1257.64 696.93L1261.56 699.38L1265.47 701.77L1269.39 704.07L1273.31 706.29L1277.23 708.39L1281.15 710.36L1285.07 712.16L1288.99 713.76L1292.91 715.15L1296.83 716.3L1300.74 717.21L1304.66 717.89L1308.58 718.36L1312.5 718.64L1316.42 718.77L1320.34 718.77L1324.26 718.67L1328.17 718.48L1332.09 718.22L1336.01 717.9L1339.93 717.54L1343.85 717.14L1347.77 716.71L1351.69 716.25L1355.61 715.77L1359.53 715.27L1363.44 714.75L1367.36 714.22L1371.28 713.67L1375.2 713.12L1379.12 712.56L1383.04 711.99L1386.96 711.41L1390.88 710.82L1394.79 710.23L1398.71 709.64L1402.63 709.04L1406.55 708.44L1410.47 707.83L1414.39 707.22L1418.31 706.6L1422.23 705.99L1426.14 705.37L1430.06 704.75L1433.98 704.13L1437.9 703.5L1437.9 831.5L1433.98 828.72L1430.06 825.95L1426.14 823.18L1422.23 820.41L1418.31 817.65L1414.39 814.88L1410.47 812.12L1406.55 809.36L1402.63 806.61L1398.71 803.86L1394.79 801.12L1390.88 798.38L1386.96 795.64L1383.04 792.91L1379.12 790.19L1375.2 787.48L1371.28 784.78L1367.36 782.08L1363.44 779.4L1359.53 776.73L1355.61 774.08L1351.69 771.45L1347.77 768.84L1343.85 766.26L1339.93 763.71L1336.01 761.2L1332.09 758.73L1328.17 756.32L1324.26 753.98L1320.34 751.73L1316.42 749.58L1312.5 747.56L1308.58 745.69L1304.66 744.01L1300.74 742.54L1296.83 741.3L1292.91 740.3L1288.99 739.54L1285.07 738.99L1281.15 738.64L1277.23 738.46L1273.31 738.41L1269.39 738.48L1265.47 738.63L1261.56 738.87L1257.64 739.17L1253.72 739.51L1249.8 739.9Z" fill="#999999" fill-opacity="0.4"/>
<path d="M1249.8 715.9L1437.9 767.5" stroke="#FFD700" stroke-width="4.0" fill="none"/>
<rect x="1108.1" y="531.2" width="441.1" height="395.3" fill="none" stroke="#333333" stroke-width="1.2"/>
<rect x="1108.1" y="487.4" width="441.1" height="43.8" fill="#D9D9D9" stroke="#333333" stroke-width="1.2"/>
<path d="M1107.5 531.2H1549.8" stroke="#333333" stroke-width="1.9"/>
<text x="1328.65" y="518.5" font-size="28.5" text-anchor="middle" textLength="93" lengthAdjust="spacingAndGlyphs" fill="#1A1A1A" stroke="#D9D9D9" stroke-width="0.3">A+/TN−</text>
<text x="1097.8" y="566.48" font-size="23" text-anchor="end" fill="#000" stroke="#000" stroke-width="0.35">3</text>
<text x="1097.8" y="633.03" font-size="23" text-anchor="end" fill="#000" stroke="#000" stroke-width="0.35">2</text>
<text x="1097.8" y="699.58" font-size="23" text-anchor="end" fill="#000" stroke="#000" stroke-width="0.35">1</text>
<text x="1097.8" y="766.13" font-size="23" text-anchor="end" fill="#000" stroke="#000" stroke-width="0.35">0</text>
<text x="1097.8" y="832.68" font-size="23" text-anchor="end" fill="#000" stroke="#000" stroke-width="0.35">−1</text>
<text x="1097.8" y="899.23" font-size="23" text-anchor="end" fill="#000" stroke="#000" stroke-width="0.35">−2</text>
<text x="1128.9" y="953.7" font-size="23" text-anchor="middle" fill="#000" stroke="#000" stroke-width="0.35">−2500</text>
<text x="1276.5" y="953.7" font-size="23" text-anchor="middle" fill="#000" stroke="#000" stroke-width="0.35">0</text>
<text x="1424.1" y="953.7" font-size="23" text-anchor="middle" fill="#000" stroke="#000" stroke-width="0.35">2500</text>
<path d="M1102.1 558.75H1108.1" stroke="#333333" stroke-width="2.0"/><path d="M1102.1 625.3H1108.1" stroke="#333333" stroke-width="2.0"/><path d="M1102.1 691.85H1108.1" stroke="#333333" stroke-width="2.0"/><path d="M1102.1 758.4H1108.1" stroke="#333333" stroke-width="2.0"/><path d="M1102.1 824.95H1108.1" stroke="#333333" stroke-width="2.0"/><path d="M1102.1 891.5H1108.1" stroke="#333333" stroke-width="2.0"/><path d="M1128.9 926.5V932.5" stroke="#333333" stroke-width="2.0"/><path d="M1276.5 926.5V932.5" stroke="#333333" stroke-width="2.0"/><path d="M1424.1 926.5V932.5" stroke="#333333" stroke-width="2.0"/>
</g>
<g id="B_BR">
<rect x="1560.6" y="531.2" width="440.5" height="395.3" fill="#fff"/>
<g stroke="#EBEBEB" fill="none"><path d="M1560.6 592.02H2001.1" stroke-width="1.0"/><path d="M1560.6 658.58H2001.1" stroke-width="1.0"/><path d="M1560.6 725.12H2001.1" stroke-width="1.0"/><path d="M1560.6 791.67H2001.1" stroke-width="1.0"/><path d="M1560.6 858.22H2001.1" stroke-width="1.0"/><path d="M1560.6 924.77H2001.1" stroke-width="1.0"/><path d="M1655 531.2V926.5" stroke-width="1.0"/><path d="M1802.6 531.2V926.5" stroke-width="1.0"/><path d="M1950.2 531.2V926.5" stroke-width="1.0"/><path d="M1560.6 558.75H2001.1" stroke-width="1.9"/><path d="M1560.6 625.3H2001.1" stroke-width="1.9"/><path d="M1560.6 691.85H2001.1" stroke-width="1.9"/><path d="M1560.6 758.4H2001.1" stroke-width="1.9"/><path d="M1560.6 824.95H2001.1" stroke-width="1.9"/><path d="M1560.6 891.5H2001.1" stroke-width="1.9"/><path d="M1581.2 531.2V926.5" stroke-width="1.9"/><path d="M1728.8 531.2V926.5" stroke-width="1.9"/><path d="M1876.4 531.2V926.5" stroke-width="1.9"/></g>
<g fill="#FFA500"><circle cx="1724.72" cy="643.39" r="3.3"/><circle cx="1733.52" cy="645.94" r="3.3"/><circle cx="1768.98" cy="656.79" r="3.3"/><circle cx="1747.55" cy="660.23" r="3.3"/><circle cx="1774.97" cy="669.8" r="3.3"/><circle cx="1739.01" cy="676.17" r="3.3"/><circle cx="1757.76" cy="675.66" r="3.3"/><circle cx="1724.72" cy="683.83" r="3.3"/><circle cx="1696.02" cy="689.95" r="3.3"/><circle cx="1742.19" cy="688.42" r="3.3"/><circle cx="1737.35" cy="692.5" r="3.3"/><circle cx="1751.76" cy="689.31" r="3.3"/><circle cx="1712.86" cy="697.6" r="3.3"/><circle cx="1717.32" cy="697.86" r="3.3"/><circle cx="1731.99" cy="697.6" r="3.3"/><circle cx="1746.02" cy="696.33" r="3.3"/><circle cx="1745.77" cy="698.24" r="3.3"/><circle cx="1777.27" cy="696.96" r="3.3"/><circle cx="1774.46" cy="703.09" r="3.3"/><circle cx="1757.88" cy="702.96" r="3.3"/><circle cx="1751.76" cy="706.15" r="3.3"/><circle cx="1756.22" cy="711.89" r="3.3"/><circle cx="1724.59" cy="710.36" r="3.3"/><circle cx="1726.25" cy="713.93" r="3.3"/><circle cx="1723.44" cy="717.37" r="3.3"/><circle cx="1715.66" cy="722.73" r="3.3"/><circle cx="1727.27" cy="726.3" r="3.3"/><circle cx="1734.8" cy="723.75" r="3.3"/><circle cx="1744.11" cy="724.01" r="3.3"/><circle cx="1732.24" cy="732.04" r="3.3"/><circle cx="1749.21" cy="732.04" r="3.3"/><circle cx="1748.57" cy="737.78" r="3.3"/><circle cx="1743.47" cy="737.53" r="3.3"/><circle cx="1779.82" cy="730.77" r="3.3"/><circle cx="1770.26" cy="735.23" r="3.3"/><circle cx="1754.69" cy="742.5" r="3.3"/><circle cx="1677.78" cy="727.58" r="3.3"/><circle cx="1680.59" cy="739.06" r="3.3"/><circle cx="1705.2" cy="739.69" r="3.3"/><circle cx="1709.03" cy="741.61" r="3.3"/><circle cx="1712.86" cy="738.8" r="3.3"/><circle cx="1716.68" cy="749.01" r="3.3"/><circle cx="1709.29" cy="751.43" r="3.3"/><circle cx="1736.71" cy="749.52" r="3.3"/><circle cx="1743.47" cy="751.56" r="3.3"/><circle cx="1750.23" cy="749.01" r="3.3"/><circle cx="1757.76" cy="749.01" r="3.3"/><circle cx="1769.36" cy="751.17" r="3.3"/><circle cx="1776.63" cy="753.98" r="3.3"/><circle cx="1761.33" cy="755" r="3.3"/><circle cx="1719.49" cy="756.28" r="3.3"/><circle cx="1731.99" cy="757.17" r="3.3"/><circle cx="1737.09" cy="755.64" r="3.3"/><circle cx="1746.02" cy="755.64" r="3.3"/><circle cx="1746.02" cy="762.65" r="3.3"/><circle cx="1709.03" cy="766.22" r="3.3"/><circle cx="1712.6" cy="769.41" r="3.3"/><circle cx="1721.15" cy="766.1" r="3.3"/><circle cx="1752.14" cy="767.12" r="3.3"/><circle cx="1770" cy="766.86" r="3.3"/><circle cx="1742.19" cy="770.94" r="3.3"/><circle cx="1751.76" cy="771.58" r="3.3"/><circle cx="1756.86" cy="775.79" r="3.3"/><circle cx="1772.81" cy="771.96" r="3.3"/><circle cx="1780.46" cy="770.94" r="3.3"/><circle cx="1783.65" cy="772.22" r="3.3"/><circle cx="1676.25" cy="773.49" r="3.3"/><circle cx="1681.22" cy="780.13" r="3.3"/><circle cx="1669.49" cy="784.59" r="3.3"/><circle cx="1711.84" cy="783.06" r="3.3"/><circle cx="1733.9" cy="777.96" r="3.3"/><circle cx="1730.71" cy="781.15" r="3.3"/><circle cx="1724.97" cy="783.06" r="3.3"/><circle cx="1729.44" cy="784.34" r="3.3"/><circle cx="1728.16" cy="787.53" r="3.3"/><circle cx="1739.64" cy="783.06" r="3.3"/><circle cx="1752.14" cy="785.87" r="3.3"/><circle cx="1767.7" cy="777.96" r="3.3"/><circle cx="1765.15" cy="783.06" r="3.3"/><circle cx="1773.83" cy="784.59" r="3.3"/><circle cx="1762.35" cy="790.97" r="3.3"/><circle cx="1702.02" cy="789.18" r="3.3"/><circle cx="1702.91" cy="792.24" r="3.3"/><circle cx="1690.79" cy="792.63" r="3.3"/><circle cx="1721.79" cy="793.9" r="3.3"/><circle cx="1744.74" cy="788.8" r="3.3"/><circle cx="1740.28" cy="791.99" r="3.3"/><circle cx="1737.73" cy="794.54" r="3.3"/><circle cx="1746.02" cy="793.27" r="3.3"/><circle cx="1728.8" cy="797.73" r="3.3"/><circle cx="1734.54" cy="801.56" r="3.3"/><circle cx="1735.82" cy="805.38" r="3.3"/><circle cx="1739.01" cy="804.74" r="3.3"/><circle cx="1735.43" cy="809.85" r="3.3"/><circle cx="1744.74" cy="803.09" r="3.3"/><circle cx="1755.84" cy="806.28" r="3.3"/><circle cx="1750.1" cy="809.46" r="3.3"/><circle cx="1724.34" cy="807.04" r="3.3"/><circle cx="1706.86" cy="811.12" r="3.3"/><circle cx="1734.54" cy="819.03" r="3.3"/><circle cx="1744.74" cy="817.5" r="3.3"/><circle cx="1783.9" cy="820.05" r="3.3"/><circle cx="1767.7" cy="823.49" r="3.3"/><circle cx="1724.34" cy="826.05" r="3.3"/><circle cx="1778.8" cy="828.72" r="3.3"/><circle cx="1579.95" cy="832.17" r="3.3"/><circle cx="1727.78" cy="834.34" r="3.3"/><circle cx="1731.73" cy="839.44" r="3.3"/><circle cx="1746.91" cy="836.89" r="3.3"/><circle cx="1777.27" cy="836.25" r="3.3"/><circle cx="1694.36" cy="855.51" r="3.3"/><circle cx="1741.17" cy="855.77" r="3.3"/><circle cx="1760.43" cy="867.5" r="3.3"/><circle cx="1773.83" cy="867.24" r="3.3"/><circle cx="1883.95" cy="661.63" r="3.3"/><circle cx="1807.81" cy="681.02" r="3.3"/><circle cx="1796.84" cy="699.52" r="3.3"/><circle cx="1787.65" cy="703.34" r="3.3"/><circle cx="1839.95" cy="729.74" r="3.3"/><circle cx="1814.18" cy="733.7" r="3.3"/><circle cx="1787.02" cy="740.59" r="3.3"/><circle cx="1896.07" cy="743.78" r="3.3"/><circle cx="1787.91" cy="767.12" r="3.3"/><circle cx="1799.77" cy="766.22" r="3.3"/><circle cx="1802.96" cy="765.84" r="3.3"/><circle cx="1824.39" cy="773.88" r="3.3"/><circle cx="1845.05" cy="777.07" r="3.3"/><circle cx="1842.76" cy="781.79" r="3.3"/><circle cx="1812.91" cy="780.89" r="3.3"/><circle cx="1817.24" cy="790.08" r="3.3"/><circle cx="1838.93" cy="803.47" r="3.3"/><circle cx="1785.1" cy="805.38" r="3.3"/><circle cx="1788.93" cy="806.28" r="3.3"/><circle cx="1895.82" cy="812.02" r="3.3"/><circle cx="1833.83" cy="822.86" r="3.3"/><circle cx="1904.74" cy="829.23" r="3.3"/></g>
<path d="M1580.2 730.5L1586.95 731.62L1593.69 732.74L1600.44 733.86L1607.18 734.98L1613.93 736.09L1620.67 737.2L1627.42 738.3L1634.17 739.4L1640.91 740.49L1647.66 741.58L1654.4 742.65L1661.15 743.72L1667.9 744.78L1674.64 745.82L1681.39 746.84L1688.13 747.84L1694.88 748.81L1701.62 749.74L1708.37 750.63L1715.12 751.45L1721.86 752.19L1728.61 752.82L1735.35 753.31L1742.1 753.63L1748.85 753.75L1755.59 753.65L1762.34 753.33L1769.08 752.83L1775.83 752.17L1782.58 751.38L1789.32 750.51L1796.07 749.56L1802.81 748.55L1809.56 747.51L1816.3 746.43L1823.05 745.33L1829.8 744.2L1836.54 743.06L1843.29 741.91L1850.03 740.75L1856.78 739.57L1863.53 738.39L1870.27 737.21L1877.02 736.01L1883.76 734.82L1890.51 733.61L1897.25 732.41L1904 731.2L1904 787.2L1897.25 786.08L1890.51 784.97L1883.76 783.86L1877.02 782.75L1870.27 781.65L1863.53 780.56L1856.78 779.47L1850.03 778.39L1843.29 777.31L1836.54 776.25L1829.8 775.2L1823.05 774.17L1816.3 773.16L1809.56 772.17L1802.81 771.22L1796.07 770.31L1789.32 769.45L1782.58 768.67L1775.83 767.97L1769.08 767.41L1762.34 766.99L1755.59 766.77L1748.85 766.76L1742.1 766.97L1735.35 767.38L1728.61 767.96L1721.86 768.69L1715.12 769.52L1708.37 770.43L1701.62 771.41L1694.88 772.43L1688.13 773.5L1681.39 774.59L1674.64 775.7L1667.9 776.83L1661.15 777.98L1654.4 779.14L1647.66 780.31L1640.91 781.48L1634.17 782.67L1627.42 783.86L1620.67 785.05L1613.93 786.25L1607.18 787.46L1600.44 788.66L1593.69 789.87L1586.95 791.09L1580.2 792.3Z" fill="#999999" fill-opacity="0.4"/>
<path d="M1580.2 761.4L1904 759.2" stroke="#FFD700" stroke-width="4.0" fill="none"/>
<rect x="1560.6" y="531.2" width="440.5" height="395.3" fill="none" stroke="#333333" stroke-width="1.2"/>
<rect x="1560.6" y="487.4" width="440.5" height="43.8" fill="#D9D9D9" stroke="#333333" stroke-width="1.2"/>
<path d="M1560 531.2H2001.7" stroke="#333333" stroke-width="1.9"/>
<text x="1780.85" y="518.5" font-size="28.5" text-anchor="middle" textLength="93" lengthAdjust="spacingAndGlyphs" fill="#1A1A1A" stroke="#D9D9D9" stroke-width="0.3">A+/TN+</text>
<text x="1581.2" y="953.7" font-size="23" text-anchor="middle" fill="#000" stroke="#000" stroke-width="0.35">−2500</text>
<text x="1728.8" y="953.7" font-size="23" text-anchor="middle" fill="#000" stroke="#000" stroke-width="0.35">0</text>
<text x="1876.4" y="953.7" font-size="23" text-anchor="middle" fill="#000" stroke="#000" stroke-width="0.35">2500</text>
<path d="M1581.2 926.5V932.5" stroke="#333333" stroke-width="2.0"/><path d="M1728.8 926.5V932.5" stroke="#333333" stroke-width="2.0"/><path d="M1876.4 926.5V932.5" stroke="#333333" stroke-width="2.0"/>
</g>
<g id="C">
<rect x="590.6" y="1091.7" width="907.5" height="904.1" fill="#fff"/>
<g stroke="#EBEBEB" fill="none"><path d="M590.6 1229.7H1498.1" stroke-width="1.1"/><path d="M590.6 1382.1H1498.1" stroke-width="1.1"/><path d="M590.6 1534.5H1498.1" stroke-width="1.1"/><path d="M590.6 1686.9H1498.1" stroke-width="1.1"/><path d="M590.6 1839.3H1498.1" stroke-width="1.1"/><path d="M590.6 1991.7H1498.1" stroke-width="1.1"/><path d="M785.5 1091.7V1995.8" stroke-width="1.1"/><path d="M1089.5 1091.7V1995.8" stroke-width="1.1"/><path d="M1393.5 1091.7V1995.8" stroke-width="1.1"/><path d="M590.6 1153.5H1498.1" stroke-width="2.2"/><path d="M590.6 1305.9H1498.1" stroke-width="2.2"/><path d="M590.6 1458.3H1498.1" stroke-width="2.2"/><path d="M590.6 1610.7H1498.1" stroke-width="2.2"/><path d="M590.6 1763.1H1498.1" stroke-width="2.2"/><path d="M590.6 1915.5H1498.1" stroke-width="2.2"/><path d="M633.5 1091.7V1995.8" stroke-width="2.2"/><path d="M937.5 1091.7V1995.8" stroke-width="2.2"/><path d="M1241.5 1091.7V1995.8" stroke-width="2.2"/></g>
<g fill="#FFA500"><circle cx="907.37" cy="1255.47" r="3.4"/><circle cx="922.71" cy="1292.27" r="3.4"/><circle cx="882.65" cy="1304.02" r="3.4"/><circle cx="951.26" cy="1299.21" r="3.4"/><circle cx="969.26" cy="1304.82" r="3.4"/><circle cx="930.15" cy="1313.34" r="3.4"/><circle cx="802.31" cy="1336.56" r="3.4"/><circle cx="821.73" cy="1348.56" r="3.4"/><circle cx="814.29" cy="1367.5" r="3.4"/><circle cx="948.15" cy="1335.49" r="3.4"/><circle cx="939.74" cy="1341.35" r="3.4"/><circle cx="932.56" cy="1345.36" r="3.4"/><circle cx="906.65" cy="1345.36" r="3.4"/><circle cx="1005.71" cy="1369.88" r="3.4"/><circle cx="1170.75" cy="1356.03" r="3.4"/><circle cx="1192.83" cy="1373.36" r="3.4"/><circle cx="937.83" cy="1365.35" r="3.4"/><circle cx="944.54" cy="1373.36" r="3.4"/><circle cx="931.36" cy="1378.7" r="3.4"/><circle cx="942.15" cy="1385.36" r="3.4"/><circle cx="859.4" cy="1381.88" r="3.4"/><circle cx="895.85" cy="1387.22" r="3.4"/><circle cx="907.84" cy="1385.89" r="3.4"/><circle cx="963.27" cy="1381.88" r="3.4"/><circle cx="957.75" cy="1386.69" r="3.4"/><circle cx="929.43" cy="1396.03" r="3.4"/><circle cx="826.53" cy="1408.03" r="3.4"/><circle cx="984.85" cy="1406.71" r="3.4"/><circle cx="1005.24" cy="1410.69" r="3.4"/><circle cx="934.95" cy="1413.37" r="3.4"/><circle cx="927.76" cy="1416.03" r="3.4"/><circle cx="915.77" cy="1420.56" r="3.4"/><circle cx="959.66" cy="1424.57" r="3.4"/><circle cx="945.02" cy="1432.03" r="3.4"/><circle cx="950.54" cy="1440.03" r="3.4"/><circle cx="883.37" cy="1432.03" r="3.4"/><circle cx="868.26" cy="1433.91" r="3.4"/><circle cx="879.3" cy="1444.83" r="3.4"/><circle cx="860.1" cy="1448.04" r="3.4"/><circle cx="959.66" cy="1454.7" r="3.4"/><circle cx="975.97" cy="1455.51" r="3.4"/><circle cx="902.57" cy="1463.25" r="3.4"/><circle cx="922.24" cy="1466.7" r="3.4"/><circle cx="992.04" cy="1471.51" r="3.4"/><circle cx="1022.5" cy="1477.38" r="3.4"/><circle cx="816.93" cy="1484.84" r="3.4"/><circle cx="960.14" cy="1480.58" r="3.4"/><circle cx="925.35" cy="1484.04" r="3.4"/><circle cx="914.56" cy="1485.37" r="3.4"/><circle cx="917.69" cy="1492.05" r="3.4"/><circle cx="986.05" cy="1495.51" r="3.4"/><circle cx="1005.71" cy="1498.72" r="3.4"/><circle cx="1005.71" cy="1504.05" r="3.4"/><circle cx="1130.47" cy="1486.72" r="3.4"/><circle cx="903.76" cy="1514.18" r="3.4"/><circle cx="810.69" cy="1516.86" r="3.4"/><circle cx="843.31" cy="1524.6" r="3.4"/><circle cx="819.09" cy="1536.6" r="3.4"/><circle cx="935.67" cy="1520.06" r="3.4"/><circle cx="951.26" cy="1521.39" r="3.4"/><circle cx="954.14" cy="1529.38" r="3.4"/><circle cx="1009.32" cy="1516.05" r="3.4"/><circle cx="1014.12" cy="1526.73" r="3.4"/><circle cx="1026.1" cy="1533.39" r="3.4"/><circle cx="1054.9" cy="1528.05" r="3.4"/><circle cx="1177.96" cy="1545.39" r="3.4"/><circle cx="931.36" cy="1546.72" r="3.4"/><circle cx="957.25" cy="1544.06" r="3.4"/><circle cx="959.66" cy="1556.06" r="3.4"/><circle cx="1005.24" cy="1551.53" r="3.4"/><circle cx="1032.1" cy="1557.39" r="3.4"/><circle cx="1066.16" cy="1552.85" r="3.4"/><circle cx="892.25" cy="1564.85" r="3.4"/><circle cx="946.95" cy="1563.25" r="3.4"/><circle cx="966.13" cy="1567.53" r="3.4"/><circle cx="1024.44" cy="1574.2" r="3.4"/><circle cx="990.84" cy="1577.4" r="3.4"/><circle cx="985.32" cy="1587.27" r="3.4"/><circle cx="954.14" cy="1580.06" r="3.4"/><circle cx="945.74" cy="1585.4" r="3.4"/><circle cx="933.28" cy="1588.6" r="3.4"/><circle cx="952.95" cy="1590.73" r="3.4"/><circle cx="875.71" cy="1607.54" r="3.4"/><circle cx="906.89" cy="1605.41" r="3.4"/><circle cx="904.96" cy="1617.41" r="3.4"/><circle cx="924.15" cy="1607.54" r="3.4"/><circle cx="936.16" cy="1612.6" r="3.4"/><circle cx="879.79" cy="1627.28" r="3.4"/><circle cx="758.17" cy="1635.27" r="3.4"/><circle cx="936.63" cy="1634.2" r="3.4"/><circle cx="985.32" cy="1655.29" r="3.4"/><circle cx="1030.43" cy="1656.07" r="3.4"/><circle cx="973.81" cy="1692.89" r="3.4"/><circle cx="993.25" cy="1699.28" r="3.4"/><circle cx="893.69" cy="1720.9" r="3.4"/><circle cx="1457.35" cy="1487.5" r="3.4"/><circle cx="951.18" cy="1249.91" r="3.4"/><circle cx="908.58" cy="1282.38" r="3.4"/><circle cx="1001.55" cy="1330.95" r="3.4"/><circle cx="1014.43" cy="1333.04" r="3.4"/><circle cx="947.16" cy="1349.71" r="3.4"/><circle cx="936.72" cy="1371.76" r="3.4"/><circle cx="926.52" cy="1387.56" r="3.4"/><circle cx="934.58" cy="1397.09" r="3.4"/><circle cx="985.49" cy="1396.49" r="3.4"/><circle cx="964.85" cy="1406.32" r="3.4"/><circle cx="1085.98" cy="1392.92" r="3.4"/><circle cx="1050.33" cy="1403.34" r="3.4"/><circle cx="1061.32" cy="1417.35" r="3.4"/><circle cx="1012.28" cy="1413.48" r="3.4"/><circle cx="872.13" cy="1413.48" r="3.4"/><circle cx="903.74" cy="1418.25" r="3.4"/><circle cx="913.13" cy="1424.8" r="3.4"/><circle cx="927.86" cy="1429.26" r="3.4"/><circle cx="980.92" cy="1424.8" r="3.4"/><circle cx="990.84" cy="1439.11" r="3.4"/><circle cx="1024.87" cy="1445.06" r="3.4"/><circle cx="1038.54" cy="1457.57" r="3.4"/><circle cx="912.6" cy="1462.93" r="3.4"/><circle cx="970.21" cy="1462.03" r="3.4"/><circle cx="974.76" cy="1470.99" r="3.4"/><circle cx="994.06" cy="1469.5" r="3.4"/><circle cx="1040.95" cy="1477.54" r="3.4"/><circle cx="946.62" cy="1478.43" r="3.4"/><circle cx="935.91" cy="1488.85" r="3.4"/><circle cx="964.85" cy="1487.36" r="3.4"/><circle cx="993.52" cy="1485.87" r="3.4"/><circle cx="1055.15" cy="1492.44" r="3.4"/><circle cx="863.02" cy="1491.83" r="3.4"/><circle cx="883.66" cy="1491.23" r="3.4"/><circle cx="922.51" cy="1500.78" r="3.4"/><circle cx="945.29" cy="1509.71" r="3.4"/><circle cx="1151.62" cy="1501.38" r="3.4"/><circle cx="761.73" cy="1513.28" r="3.4"/><circle cx="774.32" cy="1517.15" r="3.4"/><circle cx="879.09" cy="1517.15" r="3.4"/><circle cx="1031.56" cy="1511.2" r="3.4"/><circle cx="965.39" cy="1514.18" r="3.4"/><circle cx="971.55" cy="1519.24" r="3.4"/><circle cx="926.52" cy="1523.13" r="3.4"/><circle cx="986.29" cy="1524.62" r="3.4"/><circle cx="947.16" cy="1532.95" r="3.4"/><circle cx="1008.27" cy="1533.55" r="3.4"/><circle cx="1018.98" cy="1537.12" r="3.4"/><circle cx="1054.34" cy="1538.91" r="3.4"/><circle cx="1076.05" cy="1538.61" r="3.4"/><circle cx="926.52" cy="1545.46" r="3.4"/><circle cx="931.88" cy="1551.43" r="3.4"/><circle cx="946.62" cy="1563.34" r="3.4"/><circle cx="958.69" cy="1562.75" r="3.4"/><circle cx="968.87" cy="1564.24" r="3.4"/><circle cx="949.3" cy="1569.3" r="3.4"/><circle cx="1088.12" cy="1571.38" r="3.4"/><circle cx="921.17" cy="1599.09" r="3.4"/><circle cx="925.99" cy="1613.1" r="3.4"/><circle cx="1025.14" cy="1599.69" r="3.4"/><circle cx="968.06" cy="1616.97" r="3.4"/><circle cx="973.42" cy="1620.84" r="3.4"/><circle cx="930.54" cy="1630.37" r="3.4"/><circle cx="947.16" cy="1636.94" r="3.4"/><circle cx="1092.67" cy="1651.23" r="3.4"/><circle cx="1085.17" cy="1657.78" r="3.4"/><circle cx="942.07" cy="1672.99" r="3.4"/><circle cx="908.58" cy="1680.13" r="3.4"/><circle cx="874.81" cy="1692.06" r="3.4"/><circle cx="925.18" cy="1689.98" r="3.4"/><circle cx="1124.82" cy="1692.36" r="3.4"/><circle cx="905.08" cy="1795.14" r="3.4"/><circle cx="921.39" cy="1132.71" r="3.4"/><circle cx="913.16" cy="1301.5" r="3.4"/><circle cx="996.28" cy="1336.63" r="3.4"/><circle cx="1054.2" cy="1340.2" r="3.4"/><circle cx="975.66" cy="1376.62" r="3.4"/><circle cx="935.61" cy="1384.24" r="3.4"/><circle cx="923" cy="1394.43" r="3.4"/><circle cx="933.3" cy="1398.26" r="3.4"/><circle cx="931.01" cy="1404.6" r="3.4"/><circle cx="939.02" cy="1408.42" r="3.4"/><circle cx="969.94" cy="1401.55" r="3.4"/><circle cx="1003.82" cy="1414.29" r="3.4"/><circle cx="941.78" cy="1436.93" r="3.4"/><circle cx="971.09" cy="1432.61" r="3.4"/><circle cx="903.54" cy="1444.08" r="3.4"/><circle cx="991.24" cy="1453.74" r="3.4"/><circle cx="941.31" cy="1468.77" r="3.4"/><circle cx="977.95" cy="1486.58" r="3.4"/><circle cx="951.18" cy="1495.49" r="3.4"/><circle cx="966.05" cy="1499.31" r="3.4"/><circle cx="994.68" cy="1497.02" r="3.4"/><circle cx="984.83" cy="1500.07" r="3.4"/><circle cx="1271.03" cy="1486.08" r="3.4"/><circle cx="1082.83" cy="1510.56" r="3.4"/><circle cx="935.61" cy="1510.05" r="3.4"/><circle cx="941.31" cy="1516.42" r="3.4"/><circle cx="955.07" cy="1511.34" r="3.4"/><circle cx="956.2" cy="1521.53" r="3.4"/><circle cx="1061.53" cy="1533.48" r="3.4"/><circle cx="1012.31" cy="1536.8" r="3.4"/><circle cx="1018.03" cy="1539.34" r="3.4"/><circle cx="929.88" cy="1533.48" r="3.4"/><circle cx="940.18" cy="1543.67" r="3.4"/><circle cx="981.39" cy="1544.43" r="3.4"/><circle cx="955.07" cy="1540.6" r="3.4"/><circle cx="965.37" cy="1550.29" r="3.4"/><circle cx="936.74" cy="1560.46" r="3.4"/><circle cx="952.76" cy="1558.95" r="3.4"/><circle cx="993.3" cy="1561.74" r="3.4"/><circle cx="984.83" cy="1579.56" r="3.4"/><circle cx="1012.31" cy="1584.39" r="3.4"/><circle cx="1037.49" cy="1592.29" r="3.4"/><circle cx="993.97" cy="1596.62" r="3.4"/><circle cx="935.61" cy="1591.53" r="3.4"/><circle cx="929.88" cy="1599.94" r="3.4"/><circle cx="940.18" cy="1602.98" r="3.4"/><circle cx="955.07" cy="1588.99" r="3.4"/><circle cx="950.48" cy="1599.16" r="3.4"/><circle cx="964.21" cy="1598.65" r="3.4"/><circle cx="956.2" cy="1605.52" r="3.4"/><circle cx="957.35" cy="1613.17" r="3.4"/><circle cx="987.12" cy="1615.72" r="3.4"/><circle cx="1042.07" cy="1622.59" r="3.4"/><circle cx="1122.21" cy="1632.27" r="3.4"/><circle cx="999.02" cy="1641.18" r="3.4"/><circle cx="952.31" cy="1646.26" r="3.4"/><circle cx="923.68" cy="1677.57" r="3.4"/><circle cx="1049.4" cy="1677.32" r="3.4"/><circle cx="1012.76" cy="1682.42" r="3.4"/><circle cx="1089.69" cy="1700.99" r="3.4"/><circle cx="956.65" cy="1707.36" r="3.4"/><circle cx="881.79" cy="1714.23" r="3.4"/><circle cx="982.54" cy="1731.54" r="3.4"/><circle cx="955.52" cy="1764.66" r="3.4"/><circle cx="978.65" cy="1768.46" r="3.4"/><circle cx="1028.33" cy="1843.07" r="3.4"/><circle cx="929.1" cy="1347.33" r="3.4"/><circle cx="947.22" cy="1353.17" r="3.4"/><circle cx="1020.26" cy="1378.01" r="3.4"/><circle cx="976.12" cy="1385.89" r="3.4"/><circle cx="1032.59" cy="1407.81" r="3.4"/><circle cx="958.53" cy="1422.39" r="3.4"/><circle cx="997.15" cy="1421.22" r="3.4"/><circle cx="929.1" cy="1439.93" r="3.4"/><circle cx="869.99" cy="1453.95" r="3.4"/><circle cx="965.08" cy="1450.45" r="3.4"/><circle cx="955.11" cy="1459.79" r="3.4"/><circle cx="984.79" cy="1452.48" r="3.4"/><circle cx="904.67" cy="1471.47" r="3.4"/><circle cx="913.86" cy="1472.06" r="3.4"/><circle cx="944.07" cy="1471.47" r="3.4"/><circle cx="972.97" cy="1468.56" r="3.4"/><circle cx="972.45" cy="1472.93" r="3.4"/><circle cx="1037.33" cy="1470" r="3.4"/><circle cx="1031.54" cy="1484.04" r="3.4"/><circle cx="997.39" cy="1483.74" r="3.4"/><circle cx="984.79" cy="1491.05" r="3.4"/><circle cx="993.97" cy="1504.19" r="3.4"/><circle cx="928.83" cy="1500.69" r="3.4"/><circle cx="932.25" cy="1508.86" r="3.4"/><circle cx="926.46" cy="1516.74" r="3.4"/><circle cx="910.44" cy="1529.02" r="3.4"/><circle cx="934.35" cy="1537.19" r="3.4"/><circle cx="949.86" cy="1531.35" r="3.4"/><circle cx="969.03" cy="1531.95" r="3.4"/><circle cx="944.59" cy="1550.34" r="3.4"/><circle cx="979.54" cy="1550.34" r="3.4"/><circle cx="978.22" cy="1563.48" r="3.4"/><circle cx="967.71" cy="1562.91" r="3.4"/><circle cx="1042.58" cy="1547.43" r="3.4"/><circle cx="1022.89" cy="1557.64" r="3.4"/><circle cx="990.82" cy="1574.29" r="3.4"/><circle cx="832.42" cy="1540.12" r="3.4"/><circle cx="838.21" cy="1566.41" r="3.4"/><circle cx="888.89" cy="1567.85" r="3.4"/><circle cx="896.78" cy="1572.25" r="3.4"/><circle cx="904.67" cy="1565.82" r="3.4"/><circle cx="912.54" cy="1589.2" r="3.4"/><circle cx="897.32" cy="1594.74" r="3.4"/><circle cx="953.79" cy="1590.36" r="3.4"/><circle cx="967.71" cy="1595.04" r="3.4"/><circle cx="981.64" cy="1589.2" r="3.4"/><circle cx="997.15" cy="1589.2" r="3.4"/><circle cx="1021.04" cy="1594.14" r="3.4"/><circle cx="1036.01" cy="1600.58" r="3.4"/><circle cx="1004.5" cy="1602.91" r="3.4"/><circle cx="918.32" cy="1605.85" r="3.4"/><circle cx="944.07" cy="1607.88" r="3.4"/><circle cx="954.57" cy="1604.38" r="3.4"/><circle cx="972.97" cy="1604.38" r="3.4"/><circle cx="972.97" cy="1620.43" r="3.4"/><circle cx="896.78" cy="1628.61" r="3.4"/><circle cx="904.13" cy="1635.91" r="3.4"/><circle cx="921.74" cy="1628.33" r="3.4"/><circle cx="985.57" cy="1630.67" r="3.4"/><circle cx="1022.36" cy="1630.07" r="3.4"/><circle cx="965.08" cy="1639.42" r="3.4"/><circle cx="984.79" cy="1640.88" r="3.4"/><circle cx="995.29" cy="1650.52" r="3.4"/><circle cx="1028.14" cy="1641.75" r="3.4"/><circle cx="1043.9" cy="1639.42" r="3.4"/><circle cx="1050.47" cy="1642.35" r="3.4"/><circle cx="829.27" cy="1645.26" r="3.4"/><circle cx="839.5" cy="1660.46" r="3.4"/><circle cx="815.34" cy="1670.68" r="3.4"/><circle cx="902.57" cy="1667.17" r="3.4"/><circle cx="948" cy="1655.49" r="3.4"/><circle cx="941.43" cy="1662.8" r="3.4"/><circle cx="929.61" cy="1667.17" r="3.4"/><circle cx="938.82" cy="1670.1" r="3.4"/><circle cx="936.18" cy="1677.41" r="3.4"/><circle cx="959.83" cy="1667.17" r="3.4"/><circle cx="985.57" cy="1673.61" r="3.4"/><circle cx="1017.62" cy="1655.49" r="3.4"/><circle cx="1012.37" cy="1667.17" r="3.4"/><circle cx="1030.24" cy="1670.68" r="3.4"/><circle cx="1006.6" cy="1685.29" r="3.4"/><circle cx="882.34" cy="1681.19" r="3.4"/><circle cx="884.18" cy="1688.19" r="3.4"/><circle cx="859.21" cy="1689.09" r="3.4"/><circle cx="923.06" cy="1692" r="3.4"/><circle cx="970.33" cy="1680.32" r="3.4"/><circle cx="961.14" cy="1687.62" r="3.4"/><circle cx="955.89" cy="1693.46" r="3.4"/><circle cx="972.97" cy="1690.55" r="3.4"/><circle cx="937.5" cy="1700.77" r="3.4"/><circle cx="949.32" cy="1709.54" r="3.4"/><circle cx="951.96" cy="1718.28" r="3.4"/><circle cx="958.53" cy="1716.82" r="3.4"/><circle cx="951.16" cy="1728.52" r="3.4"/><circle cx="970.33" cy="1713.04" r="3.4"/><circle cx="993.19" cy="1720.35" r="3.4"/><circle cx="981.37" cy="1727.63" r="3.4"/><circle cx="928.31" cy="1722.09" r="3.4"/><circle cx="892.31" cy="1731.43" r="3.4"/><circle cx="949.32" cy="1749.54" r="3.4"/><circle cx="970.33" cy="1746.04" r="3.4"/><circle cx="1050.99" cy="1751.88" r="3.4"/><circle cx="1017.62" cy="1759.76" r="3.4"/><circle cx="928.31" cy="1765.62" r="3.4"/><circle cx="1040.48" cy="1771.73" r="3.4"/><circle cx="630.93" cy="1779.63" r="3.4"/><circle cx="935.4" cy="1784.6" r="3.4"/><circle cx="943.53" cy="1796.28" r="3.4"/><circle cx="974.8" cy="1790.44" r="3.4"/><circle cx="1037.33" cy="1788.98" r="3.4"/><circle cx="866.57" cy="1833.08" r="3.4"/><circle cx="962.98" cy="1833.68" r="3.4"/><circle cx="1002.65" cy="1860.54" r="3.4"/><circle cx="1030.24" cy="1859.94" r="3.4"/><circle cx="1257.05" cy="1389.1" r="3.4"/><circle cx="1100.23" cy="1433.5" r="3.4"/><circle cx="1077.64" cy="1475.86" r="3.4"/><circle cx="1058.71" cy="1484.61" r="3.4"/><circle cx="1166.43" cy="1545.07" r="3.4"/><circle cx="1113.35" cy="1554.14" r="3.4"/><circle cx="1057.41" cy="1569.91" r="3.4"/><circle cx="1282.01" cy="1577.22" r="3.4"/><circle cx="1059.24" cy="1630.67" r="3.4"/><circle cx="1083.67" cy="1628.61" r="3.4"/><circle cx="1090.24" cy="1627.74" r="3.4"/><circle cx="1134.38" cy="1646.15" r="3.4"/><circle cx="1176.93" cy="1653.45" r="3.4"/><circle cx="1172.21" cy="1664.26" r="3.4"/><circle cx="1110.73" cy="1662.2" r="3.4"/><circle cx="1119.65" cy="1683.25" r="3.4"/><circle cx="1164.33" cy="1713.91" r="3.4"/><circle cx="1053.46" cy="1718.28" r="3.4"/><circle cx="1061.34" cy="1720.35" r="3.4"/><circle cx="1281.5" cy="1733.49" r="3.4"/><circle cx="1153.82" cy="1758.31" r="3.4"/><circle cx="1299.87" cy="1772.9" r="3.4"/><circle cx="921.29" cy="1631.34" r="3.4"/><circle cx="934.66" cy="1662.75" r="3.4"/><circle cx="1015.4" cy="1659.31" r="3.4"/><circle cx="957.81" cy="1695.41" r="3.4"/><circle cx="975.72" cy="1616.59" r="3.4"/><circle cx="955.05" cy="1593.44" r="3.4"/><circle cx="956.43" cy="1596.89" r="3.4"/><circle cx="1003.28" cy="1606.81" r="3.4"/><circle cx="1027.39" cy="1602.68" r="3.4"/><circle cx="919.23" cy="1607.22" r="3.4"/><circle cx="959.87" cy="1605.85" r="3.4"/></g>
<path d="M631.2 1442.4L648.4 1447.5L665.6 1452.6L682.8 1457.69L700 1462.76L717.2 1467.83L734.4 1472.87L751.6 1477.9L768.8 1482.91L786 1487.89L803.2 1492.83L820.4 1497.73L837.6 1502.56L854.8 1507.33L872 1511.99L889.2 1516.51L906.4 1520.83L923.6 1524.91L940.8 1528.63L958 1531.93L975.2 1534.71L992.4 1536.99L1009.6 1538.79L1026.8 1540.2L1044 1541.31L1061.2 1542.21L1078.4 1542.94L1095.6 1543.56L1112.8 1544.09L1130 1544.55L1147.2 1544.96L1164.4 1545.33L1181.6 1545.67L1198.8 1545.99L1216 1546.28L1233.2 1546.56L1250.4 1546.82L1267.6 1547.07L1284.8 1547.31L1302 1547.55L1319.2 1547.77L1336.4 1547.99L1353.6 1548.2L1370.8 1548.41L1388 1548.62L1405.2 1548.82L1422.4 1549.01L1439.6 1549.21L1456.8 1549.4L1456.8 1693.4L1439.6 1688.26L1422.4 1683.12L1405.2 1677.98L1388 1672.85L1370.8 1667.72L1353.6 1662.6L1336.4 1657.48L1319.2 1652.36L1302 1647.25L1284.8 1642.15L1267.6 1637.06L1250.4 1631.98L1233.2 1626.91L1216 1621.85L1198.8 1616.81L1181.6 1611.79L1164.4 1606.8L1147.2 1601.84L1130 1596.92L1112.8 1592.04L1095.6 1587.24L1078.4 1582.52L1061.2 1577.92L1044 1573.49L1026.8 1569.27L1009.6 1565.35L992.4 1561.81L975.2 1558.75L958 1556.21L940.8 1554.17L923.6 1552.56L906.4 1551.3L889.2 1550.29L872 1549.48L854.8 1548.81L837.6 1548.24L820.4 1547.74L803.2 1547.3L786 1546.91L768.8 1546.56L751.6 1546.23L734.4 1545.93L717.2 1545.64L700 1545.37L682.8 1545.11L665.6 1544.87L648.4 1544.63L631.2 1544.4Z" fill="#999999" fill-opacity="0.4"/>
<path d="M631.2 1493.4L1456.8 1621.4" stroke="#FFD700" stroke-width="4.2" fill="none"/>
<path d="M590.6 1091.7H1498.1V1995.8" stroke="#333333" stroke-width="1.3" fill="none"/>
<path d="M589.6 1995.8H1498.7" stroke="#8A8A8A" stroke-width="1.5" fill="none"/>
<path d="M590.6 1091.1V1996.5" stroke="#B3B3B3" stroke-width="2.2" fill="none"/>
<text x="579.5" y="1161.52" font-size="23.8" text-anchor="end" fill="#000" stroke="#000" stroke-width="0.35">3</text>
<text x="579.5" y="1313.92" font-size="23.8" text-anchor="end" fill="#000" stroke="#000" stroke-width="0.35">2</text>
<text x="579.5" y="1466.32" font-size="23.8" text-anchor="end" fill="#000" stroke="#000" stroke-width="0.35">1</text>
<text x="579.5" y="1618.72" font-size="23.8" text-anchor="end" fill="#000" stroke="#000" stroke-width="0.35">0</text>
<text x="579.5" y="1771.12" font-size="23.8" text-anchor="end" fill="#000" stroke="#000" stroke-width="0.35">−1</text>
<text x="579.5" y="1923.52" font-size="23.8" text-anchor="end" fill="#000" stroke="#000" stroke-width="0.35">−2</text>
<text x="633.5" y="2024.4" font-size="23.8" text-anchor="middle" fill="#000" stroke="#000" stroke-width="0.35">−2500</text>
<text x="937.5" y="2024.4" font-size="23.8" text-anchor="middle" fill="#000" stroke="#000" stroke-width="0.35">0</text>
<text x="1241.5" y="2024.4" font-size="23.8" text-anchor="middle" fill="#000" stroke="#000" stroke-width="0.35">2500</text>
<path d="M583.9 1153.5H590.6" stroke="#333333" stroke-width="2.0"/><path d="M583.9 1305.9H590.6" stroke="#333333" stroke-width="2.0"/><path d="M583.9 1458.3H590.6" stroke="#333333" stroke-width="2.0"/><path d="M583.9 1610.7H590.6" stroke="#333333" stroke-width="2.0"/><path d="M583.9 1763.1H590.6" stroke="#333333" stroke-width="2.0"/><path d="M583.9 1915.5H590.6" stroke="#333333" stroke-width="2.0"/><path d="M633.5 1995.8V2002.5" stroke="#333333" stroke-width="2.0"/><path d="M937.5 1995.8V2002.5" stroke="#333333" stroke-width="2.0"/><path d="M1241.5 1995.8V2002.5" stroke="#333333" stroke-width="2.0"/>
</g>
<text x="22.2" y="31.5" font-size="38.2" textLength="23.3" lengthAdjust="spacingAndGlyphs" stroke="#000" stroke-width="0.45">A</text>
<text x="1060.5" y="31.8" font-size="38.2" textLength="22.1" lengthAdjust="spacingAndGlyphs" stroke="#000" stroke-width="0.45">B</text>
<text x="470.3" y="1122.2" font-size="38.2" textLength="24.2" lengthAdjust="spacingAndGlyphs" stroke="#000" stroke-width="0.45">C</text>
<text y="1005.6" font-size="35.3" stroke="#fff" stroke-width="0.5"><tspan x="382" textLength="58" lengthAdjust="spacingAndGlyphs">CSF</tspan> <tspan x="448.6" textLength="123.2" lengthAdjust="spacingAndGlyphs">sTREM2</tspan> <tspan x="581.3" textLength="114.7" lengthAdjust="spacingAndGlyphs">(pg/ml)</tspan></text>
<text y="1000.7" font-size="35.3" stroke="#fff" stroke-width="0.5"><tspan x="1363.2" textLength="59.2" lengthAdjust="spacingAndGlyphs">CSF</tspan> <tspan x="1430" textLength="122.8" lengthAdjust="spacingAndGlyphs">sTREM2</tspan> <tspan x="1561.6" textLength="83.2" lengthAdjust="spacingAndGlyphs">slope</tspan> <tspan x="1653.6" textLength="114.7" lengthAdjust="spacingAndGlyphs">(pg/ml)</tspan></text>
<text y="2067.8" font-size="36.0" stroke="#fff" stroke-width="0.5"><tspan x="845.5" textLength="60.8" lengthAdjust="spacingAndGlyphs">CSF</tspan> <tspan x="913.7" textLength="127.2" lengthAdjust="spacingAndGlyphs">sTREM2</tspan> <tspan x="1049.6" textLength="86.3" lengthAdjust="spacingAndGlyphs">slope</tspan> <tspan x="1144.6" textLength="118.4" lengthAdjust="spacingAndGlyphs">(pg/ml)</tspan></text>
<text x="30" y="484.6" font-size="35.3" text-anchor="middle" textLength="174" lengthAdjust="spacingAndGlyphs" transform="rotate(-90 30 484.6)" stroke="#fff" stroke-width="0.5">ADNI-mem</text>
<text x="1059.1" y="482.3" font-size="35.3" text-anchor="middle" textLength="174.2" lengthAdjust="spacingAndGlyphs" transform="rotate(-90 1059.1 482.3)" stroke="#fff" stroke-width="0.5">ADNI-mem</text>
<text x="532.1" y="1532.6" font-size="35.3" text-anchor="middle" textLength="179" lengthAdjust="spacingAndGlyphs" transform="rotate(-90 532.1 1532.6)" stroke="#fff" stroke-width="0.5">ADNI-mem</text>
</svg>
</body></html>
